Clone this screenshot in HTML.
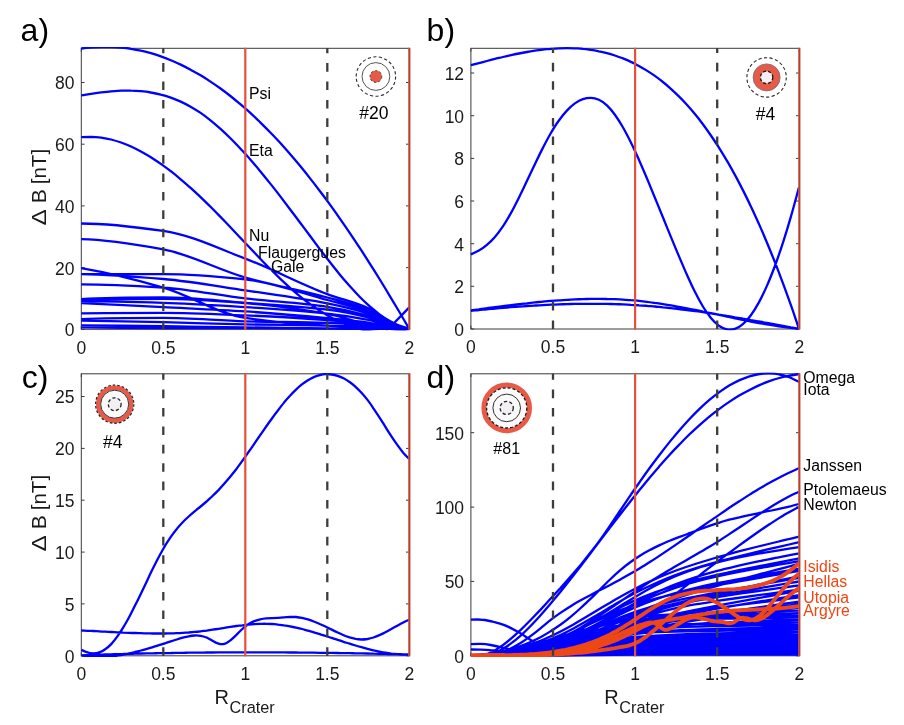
<!DOCTYPE html>
<html><head><meta charset="utf-8"><title>Delta B vs R crater</title>
<style>
html,body{margin:0;padding:0;background:#fff;}
svg{display:block;}
text{font-family:"Liberation Sans", Arial, Helvetica, sans-serif;fill:#000;}
.tk{font-size:17.5px;fill:#1a1a1a;}
.pl{font-size:32px;}
.yl{font-size:20px;fill:#1a1a1a;}
.xl{font-size:20px;fill:#1a1a1a;}
.sub{font-size:16.3px;}
.cl{font-size:15.8px;}
.ic{font-size:17.5px;}
.ic2{font-size:16px;}
</style></head>
<body><svg width="904" height="725" viewBox="0 0 904 725">
<rect width="904" height="725" fill="#fff"/>
<defs>
<clipPath id="cla"><rect x="80.0" y="47.0" width="330.6" height="283.6"/></clipPath>
<clipPath id="clb"><rect x="469.6" y="47.0" width="331.0" height="283.3"/></clipPath>
<clipPath id="clc"><rect x="80.0" y="372.5" width="330.6" height="284.6"/></clipPath>
<clipPath id="cld"><rect x="469.6" y="372.5" width="331.0" height="284.6"/></clipPath>
</defs>
<rect x="81.3" y="48.3" width="328.0" height="281.0" fill="none" stroke="#3a3a3a" stroke-width="1"/>
<path d="M81.3,329.3h3.3M409.3,329.3h-3.3M81.3,267.6h3.3M409.3,267.6h-3.3M81.3,205.9h3.3M409.3,205.9h-3.3M81.3,144.2h3.3M409.3,144.2h-3.3M81.3,82.5h3.3M409.3,82.5h-3.3M81.3,329.3v-3.3M81.3,48.3v3.3M163.3,329.3v-3.3M163.3,48.3v3.3M245.3,329.3v-3.3M245.3,48.3v3.3M327.3,329.3v-3.3M327.3,48.3v3.3M409.3,329.3v-3.3M409.3,48.3v3.3" stroke="#3a3a3a" stroke-width="1" fill="none"/>
<text x="74.5" y="336.2" text-anchor="end" class="tk">0</text>
<text x="74.5" y="274.5" text-anchor="end" class="tk">20</text>
<text x="74.5" y="212.8" text-anchor="end" class="tk">40</text>
<text x="74.5" y="151.1" text-anchor="end" class="tk">60</text>
<text x="74.5" y="89.4" text-anchor="end" class="tk">80</text>
<text x="81.3" y="353.5" text-anchor="middle" class="tk">0</text>
<text x="163.3" y="353.5" text-anchor="middle" class="tk">0.5</text>
<text x="245.3" y="353.5" text-anchor="middle" class="tk">1</text>
<text x="327.3" y="353.5" text-anchor="middle" class="tk">1.5</text>
<text x="409.3" y="353.5" text-anchor="middle" class="tk">2</text>
<rect x="470.9" y="48.3" width="328.4" height="280.7" fill="none" stroke="#3a3a3a" stroke-width="1"/>
<path d="M470.9,329.0h3.3M799.3,329.0h-3.3M470.9,286.3h3.3M799.3,286.3h-3.3M470.9,243.7h3.3M799.3,243.7h-3.3M470.9,201.0h3.3M799.3,201.0h-3.3M470.9,158.4h3.3M799.3,158.4h-3.3M470.9,115.7h3.3M799.3,115.7h-3.3M470.9,73.0h3.3M799.3,73.0h-3.3M470.9,329.0v-3.3M470.9,48.3v3.3M553.0,329.0v-3.3M553.0,48.3v3.3M635.1,329.0v-3.3M635.1,48.3v3.3M717.2,329.0v-3.3M717.2,48.3v3.3M799.3,329.0v-3.3M799.3,48.3v3.3" stroke="#3a3a3a" stroke-width="1" fill="none"/>
<text x="464.1" y="335.9" text-anchor="end" class="tk">0</text>
<text x="464.1" y="293.2" text-anchor="end" class="tk">2</text>
<text x="464.1" y="250.6" text-anchor="end" class="tk">4</text>
<text x="464.1" y="207.9" text-anchor="end" class="tk">6</text>
<text x="464.1" y="165.3" text-anchor="end" class="tk">8</text>
<text x="464.1" y="122.6" text-anchor="end" class="tk">10</text>
<text x="464.1" y="79.9" text-anchor="end" class="tk">12</text>
<text x="470.9" y="353.2" text-anchor="middle" class="tk">0</text>
<text x="553.0" y="353.2" text-anchor="middle" class="tk">0.5</text>
<text x="635.1" y="353.2" text-anchor="middle" class="tk">1</text>
<text x="717.2" y="353.2" text-anchor="middle" class="tk">1.5</text>
<text x="799.3" y="353.2" text-anchor="middle" class="tk">2</text>
<rect x="81.3" y="373.8" width="328.0" height="282.0" fill="none" stroke="#3a3a3a" stroke-width="1"/>
<path d="M81.3,655.8h3.3M409.3,655.8h-3.3M81.3,603.9h3.3M409.3,603.9h-3.3M81.3,552.1h3.3M409.3,552.1h-3.3M81.3,500.2h3.3M409.3,500.2h-3.3M81.3,448.4h3.3M409.3,448.4h-3.3M81.3,396.5h3.3M409.3,396.5h-3.3M81.3,655.8v-3.3M81.3,373.8v3.3M163.3,655.8v-3.3M163.3,373.8v3.3M245.3,655.8v-3.3M245.3,373.8v3.3M327.3,655.8v-3.3M327.3,373.8v3.3M409.3,655.8v-3.3M409.3,373.8v3.3" stroke="#3a3a3a" stroke-width="1" fill="none"/>
<text x="74.5" y="662.7" text-anchor="end" class="tk">0</text>
<text x="74.5" y="610.8" text-anchor="end" class="tk">5</text>
<text x="74.5" y="559.0" text-anchor="end" class="tk">10</text>
<text x="74.5" y="507.1" text-anchor="end" class="tk">15</text>
<text x="74.5" y="455.3" text-anchor="end" class="tk">20</text>
<text x="74.5" y="403.4" text-anchor="end" class="tk">25</text>
<text x="81.3" y="680.0" text-anchor="middle" class="tk">0</text>
<text x="163.3" y="680.0" text-anchor="middle" class="tk">0.5</text>
<text x="245.3" y="680.0" text-anchor="middle" class="tk">1</text>
<text x="327.3" y="680.0" text-anchor="middle" class="tk">1.5</text>
<text x="409.3" y="680.0" text-anchor="middle" class="tk">2</text>
<rect x="470.9" y="373.8" width="328.4" height="282.0" fill="none" stroke="#3a3a3a" stroke-width="1"/>
<path d="M470.9,655.8h3.3M799.3,655.8h-3.3M470.9,581.4h3.3M799.3,581.4h-3.3M470.9,507.1h3.3M799.3,507.1h-3.3M470.9,432.7h3.3M799.3,432.7h-3.3M470.9,655.8v-3.3M470.9,373.8v3.3M553.0,655.8v-3.3M553.0,373.8v3.3M635.1,655.8v-3.3M635.1,373.8v3.3M717.2,655.8v-3.3M717.2,373.8v3.3M799.3,655.8v-3.3M799.3,373.8v3.3" stroke="#3a3a3a" stroke-width="1" fill="none"/>
<text x="464.1" y="662.7" text-anchor="end" class="tk">0</text>
<text x="464.1" y="588.3" text-anchor="end" class="tk">50</text>
<text x="464.1" y="514.0" text-anchor="end" class="tk">100</text>
<text x="464.1" y="439.6" text-anchor="end" class="tk">150</text>
<text x="470.9" y="680.0" text-anchor="middle" class="tk">0</text>
<text x="553.0" y="680.0" text-anchor="middle" class="tk">0.5</text>
<text x="635.1" y="680.0" text-anchor="middle" class="tk">1</text>
<text x="717.2" y="680.0" text-anchor="middle" class="tk">1.5</text>
<text x="799.3" y="680.0" text-anchor="middle" class="tk">2</text>
<path d="M81.3,48.5C84.6,48.1 87.9,47.7 91.2,47.3C94.6,47.0 97.9,46.8 101.2,46.8C104.5,46.7 107.8,46.7 111.1,46.8C114.4,46.9 117.7,47.1 121.1,47.5C124.4,47.8 127.7,48.2 131.0,48.8C134.3,49.3 137.6,49.9 140.9,50.7C144.2,51.4 147.6,52.3 150.9,53.2C154.2,54.2 157.5,55.2 160.8,56.4C164.1,57.6 167.4,58.8 170.8,60.2C174.1,61.6 177.4,63.1 180.7,64.6C184.0,66.2 187.3,67.9 190.6,69.7C193.9,71.5 197.3,73.3 200.6,75.3C203.9,77.3 207.2,79.4 210.5,81.6C213.8,83.8 217.1,86.1 220.5,88.5C223.8,90.9 227.1,93.4 230.4,96.0C233.7,98.7 237.0,101.4 240.3,104.2C243.6,107.0 247.0,109.9 250.3,112.9C253.6,115.9 256.9,119.1 260.2,122.3C263.5,125.5 266.8,128.8 270.1,132.3C273.5,135.7 276.8,139.2 280.1,142.8C283.4,146.5 286.7,150.2 290.0,154.0C293.3,157.8 296.7,161.8 300.0,165.8C303.3,169.8 306.6,173.9 309.9,178.1C313.2,182.3 316.5,186.6 319.8,191.0C323.2,195.4 326.5,199.8 329.8,204.4C333.1,208.9 336.4,213.6 339.7,218.3C343.0,223.0 346.4,227.9 349.7,232.8C353.0,237.7 356.3,242.6 359.6,247.7C362.9,252.7 366.2,257.9 369.5,263.1C372.9,268.3 376.2,273.6 379.5,279.0C382.8,284.3 386.1,289.8 389.4,295.3C392.7,300.8 396.0,306.4 399.4,312.0C402.7,317.6 406.0,323.3 409.3,329.0M81.3,95.4C84.6,94.9 87.9,94.3 91.2,93.8C94.6,93.3 97.9,92.8 101.2,92.4C104.5,92.0 107.8,91.6 111.1,91.3C114.4,91.1 117.7,90.9 121.1,90.7C124.4,90.6 127.7,90.6 131.0,90.7C134.3,90.7 137.6,90.9 140.9,91.2C144.2,91.5 147.6,91.9 150.9,92.5C154.2,93.0 157.5,93.7 160.8,94.6C164.1,95.4 167.4,96.4 170.8,97.6C174.1,98.7 177.4,100.1 180.7,101.6C184.0,103.1 187.3,104.8 190.6,106.7C193.9,108.6 197.3,110.6 200.6,112.9C203.9,115.2 207.2,117.7 210.5,120.3C213.8,123.0 217.1,125.8 220.5,128.8C223.8,131.8 227.1,134.9 230.4,138.2C233.7,141.5 237.0,144.9 240.3,148.5C243.6,152.1 247.0,155.7 250.3,159.5C253.6,163.3 256.9,167.2 260.2,171.2C263.5,175.2 266.8,179.3 270.1,183.4C273.5,187.6 276.8,191.8 280.1,196.1C283.4,200.4 286.7,204.8 290.0,209.2C293.3,213.6 296.7,218.0 300.0,222.5C303.3,226.9 306.6,231.4 309.9,235.8C313.2,240.3 316.5,244.7 319.8,249.1C323.2,253.5 326.5,257.8 329.8,262.0C333.1,266.2 336.4,270.4 339.7,274.4C343.0,278.4 346.4,282.3 349.7,286.0C353.0,289.7 356.3,293.3 359.6,296.7C362.9,300.0 366.2,303.2 369.5,306.2C372.9,309.1 376.2,311.8 379.5,314.3C382.8,316.7 386.1,318.9 389.4,320.8C392.7,322.7 396.0,324.4 399.4,325.6C402.7,326.8 406.0,327.7 409.3,328.5M81.3,137.2C84.6,137.0 87.9,136.8 91.2,136.8C94.6,136.9 97.9,137.2 101.2,137.6C104.5,138.1 107.8,138.7 111.1,139.5C114.4,140.4 117.7,141.4 121.1,142.5C124.4,143.7 127.7,145.0 131.0,146.5C134.3,148.0 137.6,149.7 140.9,151.5C144.2,153.3 147.6,155.2 150.9,157.3C154.2,159.3 157.5,161.6 160.8,163.9C164.1,166.2 167.4,168.7 170.8,171.2C174.1,173.8 177.4,176.5 180.7,179.3C184.0,182.1 187.3,184.9 190.6,187.9C193.9,190.9 197.3,194.0 200.6,197.1C203.9,200.3 207.2,203.5 210.5,206.8C213.8,210.1 217.1,213.5 220.5,216.9C223.8,220.3 227.1,223.8 230.4,227.2C233.7,230.7 237.0,234.2 240.3,237.8C243.6,241.3 247.0,244.8 250.3,248.3C253.6,251.8 256.9,255.2 260.2,258.7C263.5,262.1 266.8,265.5 270.1,268.8C273.5,272.1 276.8,275.4 280.1,278.6C283.4,281.7 286.7,284.8 290.0,287.8C293.3,290.7 296.7,293.6 300.0,296.3C303.3,299.0 306.6,301.6 309.9,304.0C313.2,306.4 316.5,308.7 319.8,310.8C323.2,313.0 326.5,314.9 329.8,316.8C333.1,318.6 336.4,320.3 339.7,321.8C343.0,323.3 346.4,324.7 349.7,325.9C353.0,327.1 356.3,328.1 359.6,329.0C362.9,329.9 366.2,330.6 369.5,331.1C372.9,331.6 376.2,332.0 379.5,332.1C382.8,332.3 386.1,332.3 389.4,332.1C392.7,332.0 396.0,331.6 399.4,331.0C402.7,330.4 406.0,329.6 409.3,328.8M81.3,223.5C108.6,223.5 136.0,227.0 163.3,230.9C190.6,234.8 218.0,248.3 245.3,258.6C272.6,269.0 300.0,283.8 327.3,294.1C341.0,299.3 354.6,302.0 368.3,308.2C377.6,312.4 386.9,323.1 396.2,326.2C400.6,327.6 404.9,328.8 409.3,329.3M81.3,239.2C108.6,239.6 136.0,244.4 163.3,249.4C190.6,254.4 218.0,269.7 245.3,277.5C272.6,285.3 300.0,289.9 327.3,297.5C341.0,301.3 354.6,304.6 368.3,310.2C377.6,314.1 386.9,323.7 396.2,326.4C400.6,327.8 404.9,328.9 409.3,329.3M81.3,274.1C108.6,274.1 136.0,274.1 163.3,274.1C190.6,274.1 218.0,276.5 245.3,279.3C272.6,282.1 300.0,292.6 327.3,300.0C341.0,303.7 354.6,306.5 368.3,311.7C377.6,315.2 386.9,324.1 396.2,326.6C400.6,327.9 404.9,328.9 409.3,329.3M81.3,274.1C108.6,274.6 136.0,276.7 163.3,279.0C190.6,281.3 218.0,286.4 245.3,290.4C272.6,294.5 300.0,297.9 327.3,303.4C341.0,306.1 354.6,309.2 368.3,313.7C377.6,316.9 386.9,324.6 396.2,326.9C400.6,328.0 404.9,328.9 409.3,329.3M81.3,268.2C108.6,272.9 136.0,279.8 163.3,287.6C190.6,295.5 218.0,313.8 245.3,317.9C272.6,322.0 300.0,324.2 327.3,325.6C341.0,326.3 354.6,326.5 368.3,327.1C377.6,327.5 386.9,328.2 396.2,328.7C400.6,328.9 404.9,329.1 409.3,329.3M81.3,284.3C108.6,284.3 136.0,285.9 163.3,287.6C190.6,289.4 218.0,295.3 245.3,298.4C272.6,301.6 300.0,302.8 327.3,306.8C341.0,308.8 354.6,311.8 368.3,315.8C377.6,318.5 386.9,325.2 396.2,327.2C400.6,328.1 404.9,328.9 409.3,329.3M81.3,299.1C108.6,297.5 136.0,297.5 163.3,297.5C190.6,297.5 218.0,300.8 245.3,302.8C272.6,304.7 300.0,306.2 327.3,309.6C341.0,311.2 354.6,314.0 368.3,317.5C377.6,319.8 386.9,325.6 396.2,327.4C400.6,328.3 404.9,329.0 409.3,329.3M81.3,301.2C108.6,301.3 136.0,302.0 163.3,302.8C190.6,303.5 218.0,305.4 245.3,307.1C272.6,308.8 300.0,310.6 327.3,313.6C341.0,315.0 354.6,317.1 368.3,319.9C377.6,321.7 386.9,326.2 396.2,327.7C400.6,328.4 404.9,329.0 409.3,329.3M81.3,303.1C108.6,304.4 136.0,305.7 163.3,307.1C190.6,308.5 218.0,309.6 245.3,311.4C272.6,313.2 300.0,315.6 327.3,318.2C341.0,319.5 354.6,320.7 368.3,322.6C377.6,324.0 386.9,327.0 396.2,328.1C400.6,328.6 404.9,329.0 409.3,329.3M81.3,313.3C108.6,312.9 136.0,312.9 163.3,312.9C190.6,312.9 218.0,314.3 245.3,315.4C272.6,316.5 300.0,318.1 327.3,320.0C341.0,321.0 354.6,322.1 368.3,323.7C377.6,324.8 386.9,327.3 396.2,328.3C400.6,328.7 404.9,329.1 409.3,329.3M81.3,319.1C108.6,317.9 136.0,317.9 163.3,317.9C190.6,317.9 218.0,320.6 245.3,321.3C272.6,322.0 300.0,322.0 327.3,322.8C341.0,323.2 354.6,324.3 368.3,325.4C377.6,326.2 386.9,327.8 396.2,328.5C400.6,328.8 404.9,329.1 409.3,329.3M81.3,320.7C108.6,321.1 136.0,321.6 163.3,322.2C190.6,322.8 218.0,323.8 245.3,324.4C272.6,324.9 300.0,325.0 327.3,325.6C341.0,325.9 354.6,326.5 368.3,327.1C377.6,327.5 386.9,328.2 396.2,328.7C400.6,328.9 404.9,329.1 409.3,329.3M81.3,325.3C108.6,325.5 136.0,325.9 163.3,326.2C190.6,326.6 218.0,327.1 245.3,327.4C272.6,327.8 300.0,328.1 327.3,328.4C341.0,328.5 354.6,328.6 368.3,328.7C377.6,328.8 386.9,328.8 396.2,328.9C400.6,329.0 404.9,329.1 409.3,329.3M81.3,327.4C108.6,327.8 136.0,328.1 163.3,328.1C190.6,328.1 218.0,328.1 245.3,328.1C272.6,328.1 300.0,328.5 327.3,328.7C341.0,328.8 354.6,328.9 368.3,328.9C377.6,328.9 386.9,328.9 396.2,328.9C400.6,328.9 404.9,329.1 409.3,329.3M81.3,300.0C108.6,298.8 136.0,298.8 163.3,298.8C190.6,298.8 218.0,301.0 245.3,303.1C272.6,305.1 300.0,308.9 327.3,313.9C341.0,316.4 354.6,321.3 368.3,324.7C374.9,326.3 381.4,327.8 388.0,329.3M388.0,329.3L409.3,307.4" fill="none" stroke="#0000ff" stroke-width="2.3" stroke-linejoin="round" clip-path="url(#cla)"/>
<path d="M470.9,65.2C473.6,64.5 476.2,63.8 478.9,63.1C481.6,62.4 484.2,61.7 486.9,61.0C489.6,60.3 492.2,59.6 494.9,58.9C497.6,58.3 500.2,57.6 502.9,57.0C505.6,56.4 508.2,55.8 510.9,55.2C513.6,54.6 516.2,54.0 518.9,53.5C521.6,53.0 524.2,52.5 526.9,52.0C529.6,51.5 532.2,51.1 534.9,50.7C537.6,50.3 540.2,50.0 542.9,49.6C545.6,49.3 548.2,49.1 550.9,48.8C553.6,48.6 556.2,48.5 558.9,48.3C561.6,48.2 564.2,48.2 566.9,48.2C569.6,48.2 572.2,48.2 574.9,48.3C577.6,48.5 580.2,48.6 582.9,48.9C585.6,49.1 588.2,49.5 590.9,49.9C593.6,50.2 596.2,50.7 598.9,51.3C601.6,51.8 604.2,52.4 606.9,53.1C609.6,53.8 612.2,54.6 614.9,55.5C617.6,56.4 620.2,57.4 622.9,58.4C625.6,59.5 628.2,60.6 630.9,61.9C633.6,63.1 636.2,64.5 638.9,65.9C641.6,67.4 644.2,68.9 646.9,70.6C649.6,72.3 652.2,74.0 654.9,75.9C657.6,77.8 660.2,79.8 662.9,82.0C665.6,84.1 668.2,86.4 670.9,88.8C673.6,91.2 676.2,93.7 678.9,96.4C681.6,99.0 684.2,101.8 686.9,104.8C689.6,107.7 692.2,110.8 694.9,114.1C697.6,117.3 700.2,120.7 702.9,124.3C705.6,127.9 708.2,131.6 710.9,135.5C713.6,139.3 716.2,143.4 718.9,147.6C721.6,151.8 724.2,156.2 726.9,160.7C729.6,165.3 732.2,170.0 734.9,174.9C737.6,179.8 740.2,184.9 742.9,190.1C745.6,195.4 748.2,200.8 750.9,206.5C753.6,212.1 756.2,217.9 758.9,223.9C761.6,229.9 764.2,236.1 766.9,242.5C769.6,248.9 772.2,255.4 774.9,262.2C777.6,269.0 780.2,276.0 782.9,283.1C785.6,290.3 788.2,297.6 790.9,305.2C793.6,312.8 796.2,320.7 798.9,328.5M470.9,254.4C473.6,253.3 476.2,252.2 478.9,250.6C481.6,249.1 484.2,247.2 486.9,244.9C489.6,242.6 492.2,240.0 494.9,236.9C497.6,233.9 500.2,230.4 502.9,226.4C505.6,222.4 508.2,217.9 510.9,213.1C513.6,208.2 516.2,203.1 518.9,197.7C521.6,192.3 524.2,186.7 526.9,181.1C529.6,175.4 532.2,169.8 534.9,164.2C537.6,158.6 540.2,153.1 542.9,147.9C545.6,142.6 548.2,137.6 550.9,133.0C553.6,128.4 556.2,124.2 558.9,120.5C561.6,116.7 564.2,113.4 566.9,110.6C569.6,107.7 572.2,105.3 574.9,103.4C577.6,101.5 580.2,100.0 582.9,99.1C585.6,98.2 588.2,97.7 590.9,97.8C593.6,97.9 596.2,98.6 598.9,99.8C601.6,101.0 604.2,102.9 606.9,105.4C609.6,107.9 612.2,111.0 614.9,114.7C617.6,118.4 620.2,122.6 622.9,127.3C625.6,132.0 628.2,137.1 630.9,142.5C633.6,147.9 636.2,153.7 638.9,159.7C641.6,165.7 644.2,172.0 646.9,178.3C649.6,184.7 652.2,191.1 654.9,197.7C657.6,204.2 660.2,210.7 662.9,217.3C665.6,223.8 668.2,230.4 670.9,236.9C673.6,243.4 676.2,249.8 678.9,256.1C681.6,262.4 684.2,268.7 686.9,274.7C689.6,280.7 692.2,286.5 694.9,291.8C697.6,297.2 700.2,302.1 702.9,306.5C705.6,310.9 708.2,314.7 710.9,317.9C713.6,321.1 716.2,323.7 718.9,325.7C721.6,327.6 724.2,328.9 726.9,329.4C729.6,330.0 732.2,329.8 734.9,328.9C737.6,328.0 740.2,326.4 742.9,324.1C745.6,321.8 748.2,318.8 750.9,315.2C753.6,311.6 756.2,307.3 758.9,302.4C761.6,297.5 764.2,292.0 766.9,285.9C769.6,279.8 772.2,273.2 774.9,266.0C777.6,258.8 780.2,251.0 782.9,242.8C785.6,234.6 788.2,225.9 790.9,216.6C793.6,207.3 796.2,197.4 798.9,187.5M470.9,310.3C473.6,310.0 476.2,309.6 478.9,309.3C481.6,308.9 484.2,308.5 486.9,308.2C489.6,307.8 492.2,307.5 494.9,307.1C497.6,306.8 500.2,306.5 502.9,306.1C505.6,305.8 508.2,305.4 510.9,305.1C513.6,304.8 516.2,304.5 518.9,304.2C521.6,303.9 524.2,303.5 526.9,303.3C529.6,303.0 532.2,302.7 534.9,302.4C537.6,302.1 540.2,301.9 542.9,301.6C545.6,301.4 548.2,301.2 550.9,300.9C553.6,300.7 556.2,300.5 558.9,300.3C561.6,300.1 564.2,300.0 566.9,299.8C569.6,299.7 572.2,299.5 574.9,299.4C577.6,299.3 580.2,299.2 582.9,299.1C585.6,299.0 588.2,299.0 590.9,298.9C593.6,298.9 596.2,298.9 598.9,298.9C601.6,298.9 604.2,298.9 606.9,299.0C609.6,299.0 612.2,299.1 614.9,299.2C617.6,299.3 620.2,299.4 622.9,299.6C625.6,299.8 628.2,299.9 630.9,300.2C633.6,300.4 636.2,300.6 638.9,300.9C641.6,301.2 644.2,301.5 646.9,301.8C649.6,302.1 652.2,302.5 654.9,302.9C657.6,303.2 660.2,303.7 662.9,304.1C665.6,304.5 668.2,304.9 670.9,305.4C673.6,305.9 676.2,306.3 678.9,306.8C681.6,307.3 684.2,307.8 686.9,308.3C689.6,308.9 692.2,309.4 694.9,309.9C697.6,310.5 700.2,311.0 702.9,311.6C705.6,312.1 708.2,312.7 710.9,313.2C713.6,313.8 716.2,314.4 718.9,314.9C721.6,315.5 724.2,316.1 726.9,316.6C729.6,317.2 732.2,317.7 734.9,318.3C737.6,318.8 740.2,319.4 742.9,319.9C745.6,320.4 748.2,321.0 750.9,321.5C753.6,322.0 756.2,322.5 758.9,323.0C761.6,323.5 764.2,323.9 766.9,324.4C769.6,324.9 772.2,325.3 774.9,325.7C777.6,326.1 780.2,326.5 782.9,326.9C785.6,327.3 788.2,327.6 790.9,327.9C793.6,328.2 796.2,328.5 798.9,328.8M470.9,310.8C473.6,310.5 476.2,310.3 478.9,310.0C481.6,309.8 484.2,309.5 486.9,309.3C489.6,309.0 492.2,308.8 494.9,308.5C497.6,308.3 500.2,308.1 502.9,307.8C505.6,307.6 508.2,307.4 510.9,307.2C513.6,307.0 516.2,306.8 518.9,306.6C521.6,306.4 524.2,306.2 526.9,306.0C529.6,305.9 532.2,305.7 534.9,305.5C537.6,305.4 540.2,305.2 542.9,305.1C545.6,305.0 548.2,304.8 550.9,304.7C553.6,304.6 556.2,304.5 558.9,304.4C561.6,304.3 564.2,304.2 566.9,304.1C569.6,304.0 572.2,304.0 574.9,303.9C577.6,303.9 580.2,303.8 582.9,303.8C585.6,303.8 588.2,303.8 590.9,303.8C593.6,303.8 596.2,303.8 598.9,303.8C601.6,303.8 604.2,303.9 606.9,303.9C609.6,304.0 612.2,304.0 614.9,304.1C617.6,304.2 620.2,304.3 622.9,304.4C625.6,304.5 628.2,304.6 630.9,304.8C633.6,304.9 636.2,305.1 638.9,305.3C641.6,305.4 644.2,305.6 646.9,305.8C649.6,306.0 652.2,306.3 654.9,306.5C657.6,306.8 660.2,307.0 662.9,307.3C665.6,307.5 668.2,307.8 670.9,308.1C673.6,308.4 676.2,308.7 678.9,309.0C681.6,309.4 684.2,309.7 686.9,310.0C689.6,310.4 692.2,310.7 694.9,311.1C697.6,311.5 700.2,311.9 702.9,312.2C705.6,312.6 708.2,313.0 710.9,313.4C713.6,313.8 716.2,314.2 718.9,314.7C721.6,315.1 724.2,315.5 726.9,316.0C729.6,316.4 732.2,316.8 734.9,317.3C737.6,317.7 740.2,318.2 742.9,318.7C745.6,319.1 748.2,319.6 750.9,320.1C753.6,320.5 756.2,321.0 758.9,321.5C761.6,322.0 764.2,322.5 766.9,322.9C769.6,323.4 772.2,323.9 774.9,324.4C777.6,324.9 780.2,325.4 782.9,325.9C785.6,326.4 788.2,326.9 790.9,327.4C793.6,327.8 796.2,328.3 798.9,328.8" fill="none" stroke="#0000ff" stroke-width="2.3" stroke-linejoin="round" clip-path="url(#clb)"/>
<path d="M81.4,649.9C83.4,650.9 85.4,651.8 87.4,652.4C89.3,653.0 91.3,653.3 93.3,653.3C95.3,653.3 97.3,653.0 99.3,652.3C101.3,651.7 103.3,650.7 105.2,649.3C107.2,647.9 109.2,646.2 111.2,644.1C113.2,642.0 115.2,639.5 117.2,636.7C119.1,634.0 121.1,630.9 123.1,627.6C125.1,624.4 127.1,620.8 129.1,617.2C131.1,613.5 133.1,609.6 135.0,605.6C137.0,601.7 139.0,597.6 141.0,593.4C143.0,589.3 145.0,585.1 147.0,580.9C148.9,576.8 150.9,572.6 152.9,568.6C154.9,564.5 156.9,560.6 158.9,556.8C160.9,553.0 162.9,549.5 164.8,546.1C166.8,542.8 168.8,539.7 170.8,536.8C172.8,533.9 174.8,531.3 176.8,528.9C178.7,526.5 180.7,524.3 182.7,522.2C184.7,520.2 186.7,518.3 188.7,516.5C190.7,514.7 192.7,513.0 194.6,511.4C196.6,509.7 198.6,508.1 200.6,506.5C202.6,504.8 204.6,503.2 206.6,501.5C208.5,499.7 210.5,497.9 212.5,496.0C214.5,494.1 216.5,492.1 218.5,490.1C220.5,488.0 222.5,485.8 224.4,483.6C226.4,481.3 228.4,479.0 230.4,476.6C232.4,474.1 234.4,471.6 236.4,469.0C238.3,466.4 240.3,463.7 242.3,460.9C244.3,458.1 246.3,455.3 248.3,452.4C250.3,449.6 252.3,446.7 254.2,443.8C256.2,440.9 258.2,438.0 260.2,435.1C262.2,432.2 264.2,429.4 266.2,426.5C268.1,423.7 270.1,420.9 272.1,418.2C274.1,415.4 276.1,412.7 278.1,410.2C280.1,407.6 282.1,405.0 284.0,402.6C286.0,400.2 288.0,397.9 290.0,395.8C292.0,393.6 294.0,391.5 296.0,389.6C297.9,387.7 299.9,386.0 301.9,384.4C303.9,382.8 305.9,381.4 307.9,380.2C309.9,379.0 311.9,378.0 313.8,377.1C315.8,376.3 317.8,375.6 319.8,375.1C321.8,374.6 323.8,374.3 325.8,374.2C327.7,374.1 329.7,374.2 331.7,374.5C333.7,374.7 335.7,375.2 337.7,375.8C339.7,376.5 341.7,377.3 343.6,378.3C345.6,379.4 347.6,380.6 349.6,382.0C351.6,383.4 353.6,385.0 355.6,386.8C357.5,388.6 359.5,390.6 361.5,392.8C363.5,395.0 365.5,397.4 367.5,399.9C369.5,402.5 371.5,405.3 373.4,408.3C375.4,411.2 377.4,414.2 379.4,417.4C381.4,420.5 383.4,423.6 385.4,426.8C387.3,430.0 389.3,433.1 391.3,436.1C393.3,439.2 395.3,442.1 397.3,444.9C399.3,447.7 401.3,450.4 403.2,452.7C405.2,455.0 407.2,457.0 409.2,459.0M81.4,630.5C83.4,630.6 85.4,630.7 87.4,630.8C89.3,630.9 91.3,630.9 93.3,631.0C95.3,631.1 97.3,631.2 99.3,631.3C101.3,631.5 103.3,631.6 105.2,631.7C107.2,631.8 109.2,631.9 111.2,632.0C113.2,632.1 115.2,632.2 117.2,632.3C119.1,632.4 121.1,632.5 123.1,632.6C125.1,632.6 127.1,632.7 129.1,632.8C131.1,632.9 133.1,633.0 135.0,633.0C137.0,633.1 139.0,633.2 141.0,633.2C143.0,633.3 145.0,633.3 147.0,633.4C148.9,633.4 150.9,633.5 152.9,633.5C154.9,633.5 156.9,633.5 158.9,633.5C160.9,633.5 162.9,633.5 164.8,633.5C166.8,633.4 168.8,633.4 170.8,633.3C172.8,633.3 174.8,633.2 176.8,633.1C178.7,633.1 180.7,633.0 182.7,632.8C184.7,632.7 186.7,632.6 188.7,632.5C190.7,632.3 192.7,632.1 194.6,631.9C196.6,631.8 198.6,631.6 200.6,631.3C202.6,631.1 204.6,630.8 206.6,630.6C208.5,630.3 210.5,630.0 212.5,629.7C214.5,629.4 216.5,629.1 218.5,628.8C220.5,628.5 222.5,628.2 224.4,627.9C226.4,627.5 228.4,627.2 230.4,626.9C232.4,626.6 234.4,626.3 236.4,626.0C238.3,625.8 240.3,625.5 242.3,625.3C244.3,625.0 246.3,624.8 248.3,624.6C250.3,624.4 252.3,624.2 254.2,624.1C256.2,624.0 258.2,623.9 260.2,623.8C262.2,623.8 264.2,623.7 266.2,623.8C268.1,623.8 270.1,623.9 272.1,624.0C274.1,624.2 276.1,624.3 278.1,624.6C280.1,624.8 282.1,625.0 284.0,625.4C286.0,625.7 288.0,626.0 290.0,626.4C292.0,626.8 294.0,627.2 296.0,627.6C297.9,628.1 299.9,628.5 301.9,629.0C303.9,629.5 305.9,630.1 307.9,630.6C309.9,631.2 311.9,631.7 313.8,632.3C315.8,632.9 317.8,633.5 319.8,634.1C321.8,634.7 323.8,635.4 325.8,636.0C327.7,636.6 329.7,637.3 331.7,637.9C333.7,638.6 335.7,639.2 337.7,639.9C339.7,640.5 341.7,641.1 343.6,641.8C345.6,642.4 347.6,643.1 349.6,643.7C351.6,644.3 353.6,644.9 355.6,645.5C357.5,646.1 359.5,646.7 361.5,647.2C363.5,647.8 365.5,648.3 367.5,648.8C369.5,649.4 371.5,649.9 373.4,650.3C375.4,650.8 377.4,651.2 379.4,651.6C381.4,652.0 383.4,652.4 385.4,652.7C387.3,653.0 389.3,653.3 391.3,653.6C393.3,653.8 395.3,654.0 397.3,654.2C399.3,654.3 401.3,654.5 403.2,654.5C405.2,654.6 407.2,654.5 409.2,654.5M81.4,655.3C83.4,655.6 85.4,656.0 87.4,656.2C89.3,656.5 91.3,656.6 93.3,656.8C95.3,656.9 97.3,656.9 99.3,656.9C101.3,656.9 103.3,656.9 105.2,656.8C107.2,656.7 109.2,656.5 111.2,656.3C113.2,656.1 115.2,655.9 117.2,655.6C119.1,655.3 121.1,655.0 123.1,654.6C125.1,654.3 127.1,653.9 129.1,653.4C131.1,653.0 133.1,652.5 135.0,652.0C137.0,651.6 139.0,651.0 141.0,650.5C143.0,650.0 145.0,649.4 147.0,648.8C148.9,648.3 150.9,647.7 152.9,647.1C154.9,646.5 156.9,645.8 158.9,645.2C160.9,644.6 162.9,644.0 164.8,643.3C166.8,642.7 168.8,642.1 170.8,641.4C172.8,640.8 174.8,640.2 176.8,639.5C178.7,638.9 180.7,638.3 182.7,637.7C184.7,637.2 186.7,636.7 188.7,636.3C190.7,635.9 192.7,635.6 194.6,635.5C196.6,635.4 198.6,635.5 200.6,635.8C202.6,636.1 204.6,636.7 206.6,637.5C208.5,638.4 210.5,639.5 212.5,640.7C214.5,641.9 216.5,643.0 218.5,643.6C220.5,644.2 222.5,644.4 224.4,643.8C226.4,643.3 228.4,642.0 230.4,640.4C232.4,638.8 234.4,636.9 236.4,634.9C238.3,632.9 240.3,630.8 242.3,629.0C244.3,627.1 246.3,625.5 248.3,624.2C250.3,622.9 252.3,621.9 254.2,621.1C256.2,620.3 258.2,619.8 260.2,619.3C262.2,618.9 264.2,618.6 266.2,618.4C268.1,618.3 270.1,618.2 272.1,618.1C274.1,618.0 276.1,617.9 278.1,617.8C280.1,617.7 282.1,617.5 284.0,617.3C286.0,617.2 288.0,617.0 290.0,616.9C292.0,616.9 294.0,616.9 296.0,617.0C297.9,617.2 299.9,617.5 301.9,617.9C303.9,618.3 305.9,618.8 307.9,619.4C309.9,620.0 311.9,620.7 313.8,621.5C315.8,622.2 317.8,623.1 319.8,624.0C321.8,624.8 323.8,625.8 325.8,626.7C327.7,627.7 329.7,628.7 331.7,629.6C333.7,630.6 335.7,631.6 337.7,632.5C339.7,633.5 341.7,634.4 343.6,635.2C345.6,636.0 347.6,636.7 349.6,637.4C351.6,638.0 353.6,638.5 355.6,638.9C357.5,639.2 359.5,639.4 361.5,639.5C363.5,639.5 365.5,639.3 367.5,639.0C369.5,638.6 371.5,638.1 373.4,637.5C375.4,636.8 377.4,636.0 379.4,635.1C381.4,634.3 383.4,633.3 385.4,632.2C387.3,631.2 389.3,630.1 391.3,629.0C393.3,627.9 395.3,626.8 397.3,625.7C399.3,624.6 401.3,623.5 403.2,622.5C405.2,621.5 407.2,620.6 409.2,619.7M81.4,655.3C83.4,655.2 85.4,655.2 87.4,655.1C89.3,655.0 91.3,655.0 93.3,654.9C95.3,654.8 97.3,654.8 99.3,654.7C101.3,654.6 103.3,654.6 105.2,654.5C107.2,654.4 109.2,654.4 111.2,654.3C113.2,654.3 115.2,654.2 117.2,654.2C119.1,654.1 121.1,654.0 123.1,654.0C125.1,653.9 127.1,653.9 129.1,653.8C131.1,653.8 133.1,653.7 135.0,653.7C137.0,653.6 139.0,653.6 141.0,653.5C143.0,653.5 145.0,653.5 147.0,653.4C148.9,653.4 150.9,653.3 152.9,653.3C154.9,653.3 156.9,653.2 158.9,653.2C160.9,653.1 162.9,653.1 164.8,653.1C166.8,653.0 168.8,653.0 170.8,653.0C172.8,652.9 174.8,652.9 176.8,652.9C178.7,652.9 180.7,652.8 182.7,652.8C184.7,652.8 186.7,652.7 188.7,652.7C190.7,652.7 192.7,652.7 194.6,652.6C196.6,652.6 198.6,652.6 200.6,652.6C202.6,652.6 204.6,652.5 206.6,652.5C208.5,652.5 210.5,652.5 212.5,652.5C214.5,652.5 216.5,652.5 218.5,652.4C220.5,652.4 222.5,652.4 224.4,652.4C226.4,652.4 228.4,652.4 230.4,652.4C232.4,652.4 234.4,652.4 236.4,652.4C238.3,652.4 240.3,652.3 242.3,652.3C244.3,652.3 246.3,652.3 248.3,652.3C250.3,652.3 252.3,652.3 254.2,652.3C256.2,652.3 258.2,652.3 260.2,652.3C262.2,652.3 264.2,652.4 266.2,652.4C268.1,652.4 270.1,652.4 272.1,652.4C274.1,652.4 276.1,652.4 278.1,652.4C280.1,652.4 282.1,652.4 284.0,652.4C286.0,652.5 288.0,652.5 290.0,652.5C292.0,652.5 294.0,652.5 296.0,652.5C297.9,652.5 299.9,652.6 301.9,652.6C303.9,652.6 305.9,652.6 307.9,652.6C309.9,652.7 311.9,652.7 313.8,652.7C315.8,652.7 317.8,652.7 319.8,652.8C321.8,652.8 323.8,652.8 325.8,652.8C327.7,652.9 329.7,652.9 331.7,652.9C333.7,653.0 335.7,653.0 337.7,653.0C339.7,653.0 341.7,653.1 343.6,653.1C345.6,653.1 347.6,653.2 349.6,653.2C351.6,653.2 353.6,653.3 355.6,653.3C357.5,653.3 359.5,653.4 361.5,653.4C363.5,653.5 365.5,653.5 367.5,653.5C369.5,653.6 371.5,653.6 373.4,653.7C375.4,653.7 377.4,653.7 379.4,653.8C381.4,653.8 383.4,653.9 385.4,653.9C387.3,654.0 389.3,654.0 391.3,654.1C393.3,654.1 395.3,654.2 397.3,654.2C399.3,654.2 401.3,654.3 403.2,654.3C405.2,654.4 407.2,654.4 409.2,654.5" fill="none" stroke="#0000ff" stroke-width="2.3" stroke-linejoin="round" clip-path="url(#clc)"/>
<path d="M470.9,655.5C477.7,655.3 484.6,655.0 491.4,654.5C498.3,654.1 505.1,653.4 511.9,652.5C518.8,651.6 525.6,650.4 532.5,648.9C539.3,647.3 546.2,645.5 553.0,643.3C559.8,641.0 566.7,638.5 573.5,635.6C580.4,632.7 587.2,629.4 594.0,626.0C600.9,622.6 607.7,618.9 614.6,615.3C621.4,611.6 628.3,608.0 635.1,604.6C641.9,601.2 648.8,598.1 655.6,595.2C662.5,592.4 669.3,589.9 676.1,587.6C683.0,585.3 689.8,583.3 696.7,581.5C703.5,579.7 710.4,578.0 717.2,576.5C724.0,574.9 730.9,573.5 737.7,572.2C744.6,570.8 751.4,569.6 758.2,568.3C765.1,567.1 771.9,565.9 778.8,564.7C785.6,563.5 792.5,562.3 799.3,561.2M470.9,655.5C477.7,655.2 484.6,654.8 491.4,654.3C498.3,653.7 505.1,652.9 511.9,651.8C518.8,650.7 525.6,649.3 532.5,647.4C539.3,645.6 546.2,643.4 553.0,640.7C559.8,638.1 566.7,635.1 573.5,631.8C580.4,628.5 587.2,624.9 594.0,621.3C600.9,617.6 607.7,613.9 614.6,610.4C621.4,606.8 628.3,603.5 635.1,600.4C641.9,597.3 648.8,594.6 655.6,592.1C662.5,589.6 669.3,587.3 676.1,585.3C683.0,583.3 689.8,581.4 696.7,579.7C703.5,578.0 710.4,576.4 717.2,574.9C724.0,573.4 730.9,571.9 737.7,570.5C744.6,569.1 751.4,567.7 758.2,566.3C765.1,565.0 771.9,563.6 778.8,562.3C785.6,561.0 792.5,559.7 799.3,558.4M470.9,655.5C477.7,655.2 484.6,654.9 491.4,654.4C498.3,654.0 505.1,653.3 511.9,652.3C518.8,651.4 525.6,650.1 532.5,648.6C539.3,647.0 546.2,645.1 553.0,642.9C559.8,640.6 566.7,638.0 573.5,635.1C580.4,632.2 587.2,629.0 594.0,625.5C600.9,622.0 607.7,618.2 614.6,614.5C621.4,610.7 628.3,606.8 635.1,603.2C641.9,599.5 648.8,596.0 655.6,592.8C662.5,589.6 669.3,586.6 676.1,584.0C683.0,581.3 689.8,579.0 696.7,576.8C703.5,574.7 710.4,572.7 717.2,570.9C724.0,569.1 730.9,567.5 737.7,565.9C744.6,564.3 751.4,562.8 758.2,561.4C765.1,560.0 771.9,558.6 778.8,557.3C785.6,555.9 792.5,554.6 799.3,553.3M470.9,655.6C477.7,655.2 484.6,654.8 491.4,654.2C498.3,653.6 505.1,652.8 511.9,651.7C518.8,650.6 525.6,649.2 532.5,647.4C539.3,645.7 546.2,643.6 553.0,641.1C559.8,638.6 566.7,635.7 573.5,632.5C580.4,629.2 587.2,625.6 594.0,621.7C600.9,617.8 607.7,613.6 614.6,609.4C621.4,605.2 628.3,601.0 635.1,596.9C641.9,592.9 648.8,589.0 655.6,585.5C662.5,582.0 669.3,578.8 676.1,576.0C683.0,573.1 689.8,570.6 696.7,568.4C703.5,566.1 710.4,564.2 717.2,562.4C724.0,560.7 730.9,559.1 737.7,557.7C744.6,556.3 751.4,555.0 758.2,553.7C765.1,552.5 771.9,551.4 778.8,550.3C785.6,549.2 792.5,548.2 799.3,547.1M470.9,655.5C477.7,655.0 484.6,654.6 491.4,653.9C498.3,653.2 505.1,652.3 511.9,650.9C518.8,649.6 525.6,647.9 532.5,645.8C539.3,643.7 546.2,641.2 553.0,638.3C559.8,635.3 566.7,632.0 573.5,628.4C580.4,624.7 587.2,620.8 594.0,616.8C600.9,612.8 607.7,608.6 614.6,604.6C621.4,600.6 628.3,596.7 635.1,593.1C641.9,589.5 648.8,586.2 655.6,583.2C662.5,580.1 669.3,577.4 676.1,574.8C683.0,572.3 689.8,570.0 696.7,567.9C703.5,565.8 710.4,563.8 717.2,561.9C724.0,560.0 730.9,558.3 737.7,556.6C744.6,554.9 751.4,553.2 758.2,551.6C765.1,550.0 771.9,548.4 778.8,546.8C785.6,545.3 792.5,543.7 799.3,542.2M470.9,655.4C477.7,654.9 484.6,654.3 491.4,653.4C498.3,652.5 505.1,651.4 511.9,649.8C518.8,648.2 525.6,646.2 532.5,643.8C539.3,641.4 546.2,638.5 553.0,635.2C559.8,631.9 566.7,628.3 573.5,624.4C580.4,620.5 587.2,616.4 594.0,612.3C600.9,608.2 607.7,604.0 614.6,600.0C621.4,596.1 628.3,592.2 635.1,588.7C641.9,585.1 648.8,581.9 655.6,578.9C662.5,575.8 669.3,573.1 676.1,570.5C683.0,568.0 689.8,565.7 696.7,563.5C703.5,561.3 710.4,559.3 717.2,557.3C724.0,555.4 730.9,553.5 737.7,551.7C744.6,549.9 751.4,548.2 758.2,546.5C765.1,544.8 771.9,543.2 778.8,541.5C785.6,539.9 792.5,538.3 799.3,536.6M470.9,655.7C477.7,655.6 484.6,655.5 491.4,655.3C498.3,655.1 505.1,654.9 511.9,654.5C518.8,654.2 525.6,653.7 532.5,653.0C539.3,652.4 546.2,651.6 553.0,650.5C559.8,649.5 566.7,648.3 573.5,646.9C580.4,645.4 587.2,643.7 594.0,641.8C600.9,639.9 607.7,637.8 614.6,635.7C621.4,633.6 628.3,631.5 635.1,629.6C641.9,627.7 648.8,626.1 655.6,624.6C662.5,623.2 669.3,622.0 676.1,620.9C683.0,619.8 689.8,618.9 696.7,618.0C703.5,617.2 710.4,616.4 717.2,615.7C724.0,614.9 730.9,614.2 737.7,613.5C744.6,612.9 751.4,612.2 758.2,611.5C765.1,610.9 771.9,610.2 778.8,609.6C785.6,608.9 792.5,608.3 799.3,607.7M470.9,655.6C477.7,655.4 484.6,655.2 491.4,654.9C498.3,654.6 505.1,654.2 511.9,653.6C518.8,653.0 525.6,652.2 532.5,651.2C539.3,650.2 546.2,649.1 553.0,647.8C559.8,646.5 566.7,645.1 573.5,643.7C580.4,642.2 587.2,640.8 594.0,639.3C600.9,637.8 607.7,636.4 614.6,635.0C621.4,633.6 628.3,632.2 635.1,631.0C641.9,629.7 648.8,628.4 655.6,627.2C662.5,626.0 669.3,624.8 676.1,623.6C683.0,622.5 689.8,621.3 696.7,620.2C703.5,619.1 710.4,618.0 717.2,616.9C724.0,615.8 730.9,614.7 737.7,613.6C744.6,612.5 751.4,611.4 758.2,610.3C765.1,609.2 771.9,608.1 778.8,607.0C785.6,606.0 792.5,604.9 799.3,603.8M470.9,655.6C477.7,655.4 484.6,655.3 491.4,655.1C498.3,654.8 505.1,654.5 511.9,653.9C518.8,653.4 525.6,652.7 532.5,651.8C539.3,650.9 546.2,649.8 553.0,648.4C559.8,647.1 566.7,645.5 573.5,643.8C580.4,642.1 587.2,640.2 594.0,638.3C600.9,636.4 607.7,634.4 614.6,632.6C621.4,630.8 628.3,629.1 635.1,627.6C641.9,626.0 648.8,624.7 655.6,623.4C662.5,622.1 669.3,620.9 676.1,619.8C683.0,618.6 689.8,617.6 696.7,616.5C703.5,615.5 710.4,614.4 717.2,613.4C724.0,612.4 730.9,611.4 737.7,610.4C744.6,609.4 751.4,608.4 758.2,607.5C765.1,606.5 771.9,605.5 778.8,604.5C785.6,603.5 792.5,602.5 799.3,601.6M470.9,655.6C477.7,655.5 484.6,655.3 491.4,655.0C498.3,654.8 505.1,654.4 511.9,653.8C518.8,653.2 525.6,652.4 532.5,651.3C539.3,650.2 546.2,648.9 553.0,647.2C559.8,645.5 566.7,643.5 573.5,641.3C580.4,639.0 587.2,636.6 594.0,634.1C600.9,631.7 607.7,629.3 614.6,627.2C621.4,625.0 628.3,623.2 635.1,621.5C641.9,619.8 648.8,618.4 655.6,617.2C662.5,615.9 669.3,614.7 676.1,613.7C683.0,612.6 689.8,611.6 696.7,610.7C703.5,609.7 710.4,608.8 717.2,607.9C724.0,607.0 730.9,606.1 737.7,605.2C744.6,604.3 751.4,603.4 758.2,602.6C765.1,601.7 771.9,600.8 778.8,600.0C785.6,599.1 792.5,598.2 799.3,597.3M470.9,655.6C477.7,655.4 484.6,655.3 491.4,655.0C498.3,654.8 505.1,654.4 511.9,653.9C518.8,653.4 525.6,652.7 532.5,651.8C539.3,650.9 546.2,649.8 553.0,648.5C559.8,647.2 566.7,645.7 573.5,644.0C580.4,642.3 587.2,640.4 594.0,638.4C600.9,636.4 607.7,634.2 614.6,632.1C621.4,629.9 628.3,627.8 635.1,625.9C641.9,624.0 648.8,622.2 655.6,620.5C662.5,618.9 669.3,617.4 676.1,616.0C683.0,614.6 689.8,613.4 696.7,612.1C703.5,610.9 710.4,609.7 717.2,608.5C724.0,607.4 730.9,606.2 737.7,605.1C744.6,604.0 751.4,602.8 758.2,601.7C765.1,600.6 771.9,599.5 778.8,598.4C785.6,597.3 792.5,596.2 799.3,595.1M470.9,655.5C477.7,655.3 484.6,655.2 491.4,654.9C498.3,654.5 505.1,654.1 511.9,653.4C518.8,652.8 525.6,651.9 532.5,650.8C539.3,649.7 546.2,648.3 553.0,646.8C559.8,645.2 566.7,643.5 573.5,641.6C580.4,639.7 587.2,637.7 594.0,635.6C600.9,633.5 607.7,631.4 614.6,629.4C621.4,627.3 628.3,625.4 635.1,623.5C641.9,621.7 648.8,620.0 655.6,618.4C662.5,616.7 669.3,615.2 676.1,613.8C683.0,612.3 689.8,610.9 696.7,609.6C703.5,608.3 710.4,607.0 717.2,605.7C724.0,604.4 730.9,603.1 737.7,601.9C744.6,600.6 751.4,599.4 758.2,598.1C765.1,596.9 771.9,595.6 778.8,594.4C785.6,593.2 792.5,592.0 799.3,590.7M470.9,655.6C477.7,655.5 484.6,655.4 491.4,655.2C498.3,655.0 505.1,654.6 511.9,654.2C518.8,653.7 525.6,653.1 532.5,652.2C539.3,651.4 546.2,650.4 553.0,649.1C559.8,647.8 566.7,646.3 573.5,644.4C580.4,642.5 587.2,640.2 594.0,637.6C600.9,635.0 607.7,632.1 614.6,629.1C621.4,626.1 628.3,623.1 635.1,620.4C641.9,617.8 648.8,615.4 655.6,613.3C662.5,611.3 669.3,609.6 676.1,608.1C683.0,606.6 689.8,605.4 696.7,604.2C703.5,603.0 710.4,602.0 717.2,600.9C724.0,599.9 730.9,598.9 737.7,598.0C744.6,597.0 751.4,596.1 758.2,595.2C765.1,594.3 771.9,593.4 778.8,592.5C785.6,591.5 792.5,590.6 799.3,589.7M470.9,655.6C477.7,655.5 484.6,655.3 491.4,655.1C498.3,654.8 505.1,654.4 511.9,653.9C518.8,653.3 525.6,652.6 532.5,651.6C539.3,650.7 546.2,649.5 553.0,648.0C559.8,646.5 566.7,644.8 573.5,642.8C580.4,640.7 587.2,638.3 594.0,635.7C600.9,633.1 607.7,630.2 614.6,627.2C621.4,624.3 628.3,621.3 635.1,618.6C641.9,615.8 648.8,613.3 655.6,611.1C662.5,608.8 669.3,606.9 676.1,605.2C683.0,603.5 689.8,602.1 696.7,600.7C703.5,599.4 710.4,598.2 717.2,597.1C724.0,596.0 730.9,594.9 737.7,593.9C744.6,592.9 751.4,591.9 758.2,591.0C765.1,590.0 771.9,589.1 778.8,588.1C785.6,587.2 792.5,586.3 799.3,585.4M470.9,655.5C477.7,655.2 484.6,654.9 491.4,654.5C498.3,654.0 505.1,653.3 511.9,652.3C518.8,651.4 525.6,650.1 532.5,648.6C539.3,647.0 546.2,645.2 553.0,643.1C559.8,640.9 566.7,638.5 573.5,636.0C580.4,633.5 587.2,630.8 594.0,628.2C600.9,625.6 607.7,623.0 614.6,620.6C621.4,618.2 628.3,615.9 635.1,613.9C641.9,611.8 648.8,609.9 655.6,608.2C662.5,606.5 669.3,604.9 676.1,603.4C683.0,601.9 689.8,600.6 696.7,599.2C703.5,597.9 710.4,596.6 717.2,595.4C724.0,594.2 730.9,593.0 737.7,591.8C744.6,590.6 751.4,589.5 758.2,588.3C765.1,587.2 771.9,586.0 778.8,584.9C785.6,583.8 792.5,582.6 799.3,581.5M470.9,655.5C477.7,655.3 484.6,655.2 491.4,654.8C498.3,654.5 505.1,654.0 511.9,653.2C518.8,652.5 525.6,651.5 532.5,650.1C539.3,648.8 546.2,647.1 553.0,645.1C559.8,643.1 566.7,640.7 573.5,637.9C580.4,635.2 587.2,632.2 594.0,629.1C600.9,626.0 607.7,622.8 614.6,619.9C621.4,617.0 628.3,614.3 635.1,611.9C641.9,609.6 648.8,607.5 655.6,605.6C662.5,603.8 669.3,602.1 676.1,600.6C683.0,599.1 689.8,597.7 696.7,596.3C703.5,595.0 710.4,593.7 717.2,592.4C724.0,591.1 730.9,589.9 737.7,588.7C744.6,587.4 751.4,586.2 758.2,585.0C765.1,583.8 771.9,582.6 778.8,581.4C785.6,580.2 792.5,579.0 799.3,577.8M470.9,655.5C477.7,655.3 484.6,655.1 491.4,654.7C498.3,654.3 505.1,653.8 511.9,653.0C518.8,652.2 525.6,651.2 532.5,649.9C539.3,648.6 546.2,647.0 553.0,645.1C559.8,643.3 566.7,641.2 573.5,639.0C580.4,636.7 587.2,634.2 594.0,631.6C600.9,629.1 607.7,626.4 614.6,623.8C621.4,621.2 628.3,618.6 635.1,616.2C641.9,613.8 648.8,611.6 655.6,609.5C662.5,607.4 669.3,605.4 676.1,603.6C683.0,601.7 689.8,600.0 696.7,598.4C703.5,596.7 710.4,595.1 717.2,593.6C724.0,592.1 730.9,590.6 737.7,589.1C744.6,587.6 751.4,586.2 758.2,584.7C765.1,583.3 771.9,581.9 778.8,580.4C785.6,579.0 792.5,577.6 799.3,576.2M470.9,655.5C477.7,655.2 484.6,654.9 491.4,654.4C498.3,653.9 505.1,653.2 511.9,652.2C518.8,651.1 525.6,649.7 532.5,647.9C539.3,646.1 546.2,643.9 553.0,641.3C559.8,638.6 566.7,635.6 573.5,632.3C580.4,629.0 587.2,625.5 594.0,622.2C600.9,618.8 607.7,615.6 614.6,612.6C621.4,609.7 628.3,607.1 635.1,604.8C641.9,602.4 648.8,600.4 655.6,598.6C662.5,596.8 669.3,595.1 676.1,593.6C683.0,592.1 689.8,590.7 696.7,589.3C703.5,588.0 710.4,586.7 717.2,585.4C724.0,584.1 730.9,582.9 737.7,581.7C744.6,580.4 751.4,579.2 758.2,578.0C765.1,576.8 771.9,575.6 778.8,574.4C785.6,573.2 792.5,572.0 799.3,570.8M470.9,655.5C477.7,655.3 484.6,655.1 491.4,654.7C498.3,654.2 505.1,653.7 511.9,652.8C518.8,652.0 525.6,650.9 532.5,649.4C539.3,648.0 546.2,646.2 553.0,644.1C559.8,642.0 566.7,639.5 573.5,636.7C580.4,633.9 587.2,630.7 594.0,627.4C600.9,624.1 607.7,620.6 614.6,617.2C621.4,613.8 628.3,610.5 635.1,607.5C641.9,604.5 648.8,601.7 655.6,599.3C662.5,596.8 669.3,594.7 676.1,592.8C683.0,590.8 689.8,589.1 696.7,587.5C703.5,586.0 710.4,584.5 717.2,583.2C724.0,581.8 730.9,580.5 737.7,579.3C744.6,578.0 751.4,576.8 758.2,575.6C765.1,574.5 771.9,573.3 778.8,572.2C785.6,571.0 792.5,569.9 799.3,568.7M470.9,655.4C477.7,655.1 484.6,654.9 491.4,654.5C498.3,654.0 505.1,653.4 511.9,652.4C518.8,651.5 525.6,650.3 532.5,648.8C539.3,647.3 546.2,645.5 553.0,643.4C559.8,641.4 566.7,639.1 573.5,636.6C580.4,634.2 587.2,631.6 594.0,628.9C600.9,626.2 607.7,623.4 614.6,620.6C621.4,617.9 628.3,615.2 635.1,612.6C641.9,609.9 648.8,607.4 655.6,605.0C662.5,602.6 669.3,600.3 676.1,598.1C683.0,595.9 689.8,593.8 696.7,591.8C703.5,589.8 710.4,587.8 717.2,585.8C724.0,583.9 730.9,582.0 737.7,580.1C744.6,578.3 751.4,576.4 758.2,574.6C765.1,572.7 771.9,570.9 778.8,569.1C785.6,567.2 792.5,565.4 799.3,563.6M470.9,655.8C477.7,655.8 484.6,655.8 491.4,655.8C498.3,655.8 505.1,655.7 511.9,655.7C518.8,655.7 525.6,655.7 532.5,655.6C539.3,655.6 546.2,655.5 553.0,655.4C559.8,655.4 566.7,655.3 573.5,655.2C580.4,655.1 587.2,655.0 594.0,654.9C600.9,654.8 607.7,654.7 614.6,654.6C621.4,654.5 628.3,654.5 635.1,654.4C641.9,654.3 648.8,654.3 655.6,654.3C662.5,654.2 669.3,654.2 676.1,654.2C683.0,654.2 689.8,654.2 696.7,654.1C703.5,654.1 710.4,654.1 717.2,654.1C724.0,654.1 730.9,654.1 737.7,654.1C744.6,654.1 751.4,654.1 758.2,654.1C765.1,654.1 771.9,654.1 778.8,654.1C785.6,654.1 792.5,654.1 799.3,654.1M470.9,655.8C477.7,655.8 484.6,655.8 491.4,655.8C498.3,655.8 505.1,655.8 511.9,655.7C518.8,655.7 525.6,655.7 532.5,655.7C539.3,655.6 546.2,655.6 553.0,655.5C559.8,655.5 566.7,655.4 573.5,655.3C580.4,655.2 587.2,655.1 594.0,655.0C600.9,654.9 607.7,654.8 614.6,654.8C621.4,654.7 628.3,654.6 635.1,654.6C641.9,654.5 648.8,654.5 655.6,654.4C662.5,654.4 669.3,654.4 676.1,654.3C683.0,654.3 689.8,654.3 696.7,654.3C703.5,654.3 710.4,654.3 717.2,654.3C724.0,654.3 730.9,654.3 737.7,654.3C744.6,654.2 751.4,654.2 758.2,654.2C765.1,654.2 771.9,654.2 778.8,654.2C785.6,654.2 792.5,654.2 799.3,654.2M470.9,655.8C477.7,655.8 484.6,655.8 491.4,655.7C498.3,655.7 505.1,655.7 511.9,655.7C518.8,655.6 525.6,655.6 532.5,655.5C539.3,655.5 546.2,655.4 553.0,655.4C559.8,655.3 566.7,655.2 573.5,655.2C580.4,655.1 587.2,655.0 594.0,655.0C600.9,654.9 607.7,654.8 614.6,654.8C621.4,654.7 628.3,654.7 635.1,654.7C641.9,654.6 648.8,654.6 655.6,654.6C662.5,654.6 669.3,654.6 676.1,654.6C683.0,654.5 689.8,654.5 696.7,654.5C703.5,654.5 710.4,654.5 717.2,654.5C724.0,654.5 730.9,654.5 737.7,654.5C744.6,654.5 751.4,654.5 758.2,654.5C765.1,654.5 771.9,654.5 778.8,654.5C785.6,654.5 792.5,654.5 799.3,654.5M470.9,655.8C477.7,655.8 484.6,655.7 491.4,655.7C498.3,655.6 505.1,655.6 511.9,655.5C518.8,655.4 525.6,655.3 532.5,655.2C539.3,655.1 546.2,655.0 553.0,654.9C559.8,654.8 566.7,654.7 573.5,654.6C580.4,654.4 587.2,654.3 594.0,654.2C600.9,654.1 607.7,654.0 614.6,653.9C621.4,653.8 628.3,653.8 635.1,653.7C641.9,653.6 648.8,653.6 655.6,653.5C662.5,653.5 669.3,653.4 676.1,653.4C683.0,653.3 689.8,653.3 696.7,653.3C703.5,653.3 710.4,653.2 717.2,653.2C724.0,653.2 730.9,653.2 737.7,653.2C744.6,653.1 751.4,653.1 758.2,653.1C765.1,653.1 771.9,653.1 778.8,653.1C785.6,653.1 792.5,653.0 799.3,653.0M470.9,655.8C477.7,655.8 484.6,655.7 491.4,655.7C498.3,655.6 505.1,655.6 511.9,655.5C518.8,655.4 525.6,655.3 532.5,655.1C539.3,655.0 546.2,654.8 553.0,654.7C559.8,654.5 566.7,654.3 573.5,654.2C580.4,654.0 587.2,653.8 594.0,653.7C600.9,653.6 607.7,653.5 614.6,653.4C621.4,653.3 628.3,653.3 635.1,653.2C641.9,653.2 648.8,653.1 655.6,653.1C662.5,653.0 669.3,653.0 676.1,653.0C683.0,653.0 689.8,653.0 696.7,652.9C703.5,652.9 710.4,652.9 717.2,652.9C724.0,652.9 730.9,652.8 737.7,652.8C744.6,652.8 751.4,652.8 758.2,652.8C765.1,652.8 771.9,652.8 778.8,652.7C785.6,652.7 792.5,652.7 799.3,652.7M470.9,655.8C477.7,655.8 484.6,655.8 491.4,655.8C498.3,655.8 505.1,655.7 511.9,655.7C518.8,655.7 525.6,655.6 532.5,655.5C539.3,655.4 546.2,655.3 553.0,655.2C559.8,655.0 566.7,654.8 573.5,654.6C580.4,654.3 587.2,654.1 594.0,653.8C600.9,653.5 607.7,653.3 614.6,653.1C621.4,652.9 628.3,652.8 635.1,652.7C641.9,652.6 648.8,652.5 655.6,652.5C662.5,652.4 669.3,652.4 676.1,652.3C683.0,652.3 689.8,652.3 696.7,652.3C703.5,652.3 710.4,652.3 717.2,652.2C724.0,652.2 730.9,652.2 737.7,652.2C744.6,652.2 751.4,652.2 758.2,652.2C765.1,652.2 771.9,652.2 778.8,652.2C785.6,652.1 792.5,652.1 799.3,652.1M470.9,655.8C477.7,655.8 484.6,655.7 491.4,655.7C498.3,655.6 505.1,655.6 511.9,655.5C518.8,655.4 525.6,655.3 532.5,655.2C539.3,655.1 546.2,654.9 553.0,654.8C559.8,654.6 566.7,654.4 573.5,654.3C580.4,654.1 587.2,653.9 594.0,653.7C600.9,653.6 607.7,653.4 614.6,653.3C621.4,653.2 628.3,653.1 635.1,653.0C641.9,652.9 648.8,652.8 655.6,652.8C662.5,652.7 669.3,652.7 676.1,652.6C683.0,652.6 689.8,652.6 696.7,652.5C703.5,652.5 710.4,652.5 717.2,652.5C724.0,652.4 730.9,652.4 737.7,652.4C744.6,652.4 751.4,652.4 758.2,652.4C765.1,652.3 771.9,652.3 778.8,652.3C785.6,652.3 792.5,652.3 799.3,652.3M470.9,655.8C477.7,655.7 484.6,655.7 491.4,655.6C498.3,655.6 505.1,655.5 511.9,655.3C518.8,655.2 525.6,655.0 532.5,654.8C539.3,654.7 546.2,654.4 553.0,654.2C559.8,653.9 566.7,653.6 573.5,653.4C580.4,653.1 587.2,652.9 594.0,652.7C600.9,652.5 607.7,652.3 614.6,652.1C621.4,652.0 628.3,651.9 635.1,651.8C641.9,651.7 648.8,651.6 655.6,651.5C662.5,651.5 669.3,651.4 676.1,651.4C683.0,651.3 689.8,651.3 696.7,651.3C703.5,651.2 710.4,651.2 717.2,651.2C724.0,651.1 730.9,651.1 737.7,651.1C744.6,651.1 751.4,651.0 758.2,651.0C765.1,651.0 771.9,651.0 778.8,650.9C785.6,650.9 792.5,650.9 799.3,650.9M470.9,655.8C477.7,655.8 484.6,655.7 491.4,655.6C498.3,655.6 505.1,655.4 511.9,655.3C518.8,655.2 525.6,655.0 532.5,654.7C539.3,654.5 546.2,654.2 553.0,653.9C559.8,653.7 566.7,653.3 573.5,653.1C580.4,652.8 587.2,652.5 594.0,652.3C600.9,652.1 607.7,651.9 614.6,651.8C621.4,651.7 628.3,651.6 635.1,651.5C641.9,651.4 648.8,651.4 655.6,651.4C662.5,651.3 669.3,651.3 676.1,651.3C683.0,651.3 689.8,651.2 696.7,651.2C703.5,651.2 710.4,651.2 717.2,651.2C724.0,651.2 730.9,651.2 737.7,651.2C744.6,651.2 751.4,651.2 758.2,651.2C765.1,651.2 771.9,651.2 778.8,651.2C785.6,651.2 792.5,651.2 799.3,651.2M470.9,655.8C477.7,655.7 484.6,655.7 491.4,655.6C498.3,655.5 505.1,655.4 511.9,655.3C518.8,655.1 525.6,654.9 532.5,654.7C539.3,654.5 546.2,654.2 553.0,653.8C559.8,653.5 566.7,653.1 573.5,652.8C580.4,652.4 587.2,652.0 594.0,651.7C600.9,651.4 607.7,651.1 614.6,650.8C621.4,650.6 628.3,650.4 635.1,650.3C641.9,650.1 648.8,650.0 655.6,649.9C662.5,649.8 669.3,649.8 676.1,649.7C683.0,649.7 689.8,649.6 696.7,649.6C703.5,649.6 710.4,649.5 717.2,649.5C724.0,649.5 730.9,649.5 737.7,649.5C744.6,649.5 751.4,649.4 758.2,649.4C765.1,649.4 771.9,649.4 778.8,649.4C785.6,649.4 792.5,649.4 799.3,649.4M470.9,655.8C477.7,655.7 484.6,655.6 491.4,655.5C498.3,655.3 505.1,655.2 511.9,655.0C518.8,654.8 525.6,654.5 532.5,654.3C539.3,654.0 546.2,653.7 553.0,653.4C559.8,653.0 566.7,652.7 573.5,652.4C580.4,652.0 587.2,651.7 594.0,651.4C600.9,651.1 607.7,650.8 614.6,650.6C621.4,650.4 628.3,650.2 635.1,650.0C641.9,649.8 648.8,649.7 655.6,649.6C662.5,649.4 669.3,649.3 676.1,649.3C683.0,649.2 689.8,649.1 696.7,649.1C703.5,649.0 710.4,649.0 717.2,648.9C724.0,648.9 730.9,648.8 737.7,648.8C744.6,648.8 751.4,648.7 758.2,648.7C765.1,648.7 771.9,648.7 778.8,648.6C785.6,648.6 792.5,648.6 799.3,648.6M470.9,655.8C477.7,655.7 484.6,655.7 491.4,655.6C498.3,655.6 505.1,655.4 511.9,655.3C518.8,655.2 525.6,655.0 532.5,654.8C539.3,654.5 546.2,654.2 553.0,653.9C559.8,653.6 566.7,653.2 573.5,652.7C580.4,652.3 587.2,651.9 594.0,651.4C600.9,651.0 607.7,650.6 614.6,650.3C621.4,650.0 628.3,649.7 635.1,649.4C641.9,649.2 648.8,649.0 655.6,648.9C662.5,648.7 669.3,648.6 676.1,648.6C683.0,648.5 689.8,648.4 696.7,648.4C703.5,648.3 710.4,648.3 717.2,648.2C724.0,648.2 730.9,648.2 737.7,648.2C744.6,648.1 751.4,648.1 758.2,648.1C765.1,648.1 771.9,648.1 778.8,648.0C785.6,648.0 792.5,648.0 799.3,648.0M470.9,655.8C477.7,655.7 484.6,655.7 491.4,655.6C498.3,655.4 505.1,655.3 511.9,655.0C518.8,654.7 525.6,654.3 532.5,653.8C539.3,653.3 546.2,652.7 553.0,652.0C559.8,651.4 566.7,650.7 573.5,650.2C580.4,649.7 587.2,649.3 594.0,649.0C600.9,648.7 607.7,648.5 614.6,648.3C621.4,648.2 628.3,648.1 635.1,648.0C641.9,647.9 648.8,647.8 655.6,647.8C662.5,647.7 669.3,647.7 676.1,647.6C683.0,647.6 689.8,647.6 696.7,647.5C703.5,647.5 710.4,647.4 717.2,647.4C724.0,647.4 730.9,647.3 737.7,647.3C744.6,647.3 751.4,647.2 758.2,647.2C765.1,647.1 771.9,647.1 778.8,647.1C785.6,647.0 792.5,647.0 799.3,647.0M470.9,655.8C477.7,655.7 484.6,655.7 491.4,655.6C498.3,655.5 505.1,655.4 511.9,655.2C518.8,655.0 525.6,654.7 532.5,654.2C539.3,653.8 546.2,653.2 553.0,652.5C559.8,651.9 566.7,651.2 573.5,650.5C580.4,649.9 587.2,649.4 594.0,649.0C600.9,648.6 607.7,648.3 614.6,648.1C621.4,647.9 628.3,647.7 635.1,647.6C641.9,647.5 648.8,647.5 655.6,647.4C662.5,647.3 669.3,647.3 676.1,647.2C683.0,647.2 689.8,647.1 696.7,647.1C703.5,647.1 710.4,647.0 717.2,647.0C724.0,647.0 730.9,646.9 737.7,646.9C744.6,646.8 751.4,646.8 758.2,646.8C765.1,646.7 771.9,646.7 778.8,646.7C785.6,646.6 792.5,646.6 799.3,646.6M470.9,655.8C477.7,655.8 484.6,655.7 491.4,655.6C498.3,655.6 505.1,655.5 511.9,655.4C518.8,655.2 525.6,655.0 532.5,654.8C539.3,654.5 546.2,654.2 553.0,653.8C559.8,653.4 566.7,652.8 573.5,652.3C580.4,651.7 587.2,651.0 594.0,650.4C600.9,649.8 607.7,649.2 614.6,648.7C621.4,648.1 628.3,647.7 635.1,647.4C641.9,647.0 648.8,646.7 655.6,646.5C662.5,646.3 669.3,646.2 676.1,646.1C683.0,645.9 689.8,645.8 696.7,645.8C703.5,645.7 710.4,645.6 717.2,645.6C724.0,645.5 730.9,645.5 737.7,645.4C744.6,645.4 751.4,645.3 758.2,645.3C765.1,645.3 771.9,645.2 778.8,645.2C785.6,645.2 792.5,645.1 799.3,645.1M470.9,655.8C477.7,655.7 484.6,655.6 491.4,655.4C498.3,655.2 505.1,655.0 511.9,654.8C518.8,654.5 525.6,654.2 532.5,653.8C539.3,653.5 546.2,653.0 553.0,652.5C559.8,652.0 566.7,651.5 573.5,650.9C580.4,650.4 587.2,649.8 594.0,649.2C600.9,648.7 607.7,648.2 614.6,647.7C621.4,647.3 628.3,646.9 635.1,646.5C641.9,646.2 648.8,645.9 655.6,645.7C662.5,645.4 669.3,645.2 676.1,645.1C683.0,644.9 689.8,644.8 696.7,644.7C703.5,644.7 710.4,644.6 717.2,644.5C724.0,644.5 730.9,644.4 737.7,644.4C744.6,644.4 751.4,644.3 758.2,644.3C765.1,644.3 771.9,644.3 778.8,644.3C785.6,644.3 792.5,644.2 799.3,644.2M470.9,655.8C477.7,655.7 484.6,655.7 491.4,655.6C498.3,655.5 505.1,655.3 511.9,655.1C518.8,654.9 525.6,654.6 532.5,654.3C539.3,653.9 546.2,653.4 553.0,652.8C559.8,652.2 566.7,651.5 573.5,650.7C580.4,649.9 587.2,649.1 594.0,648.3C600.9,647.6 607.7,646.9 614.6,646.3C621.4,645.8 628.3,645.3 635.1,645.0C641.9,644.6 648.8,644.4 655.6,644.2C662.5,644.0 669.3,643.8 676.1,643.7C683.0,643.6 689.8,643.6 696.7,643.5C703.5,643.5 710.4,643.4 717.2,643.4C724.0,643.4 730.9,643.3 737.7,643.3C744.6,643.3 751.4,643.3 758.2,643.3C765.1,643.2 771.9,643.2 778.8,643.2C785.6,643.2 792.5,643.2 799.3,643.2M470.9,655.8C477.7,655.7 484.6,655.7 491.4,655.5C498.3,655.4 505.1,655.3 511.9,655.1C518.8,654.9 525.6,654.6 532.5,654.2C539.3,653.9 546.2,653.4 553.0,652.9C559.8,652.3 566.7,651.7 573.5,651.0C580.4,650.3 587.2,649.5 594.0,648.7C600.9,648.0 607.7,647.3 614.6,646.6C621.4,646.0 628.3,645.4 635.1,645.0C641.9,644.5 648.8,644.2 655.6,643.9C662.5,643.6 669.3,643.4 676.1,643.2C683.0,643.1 689.8,642.9 696.7,642.8C703.5,642.7 710.4,642.7 717.2,642.6C724.0,642.5 730.9,642.5 737.7,642.5C744.6,642.4 751.4,642.4 758.2,642.4C765.1,642.3 771.9,642.3 778.8,642.3C785.6,642.2 792.5,642.2 799.3,642.2M470.9,655.8C477.7,655.6 484.6,655.5 491.4,655.3C498.3,655.1 505.1,654.8 511.9,654.4C518.8,654.0 525.6,653.5 532.5,652.9C539.3,652.3 546.2,651.7 553.0,650.9C559.8,650.2 566.7,649.3 573.5,648.6C580.4,647.8 587.2,647.0 594.0,646.4C600.9,645.7 607.7,645.2 614.6,644.7C621.4,644.2 628.3,643.8 635.1,643.5C641.9,643.2 648.8,643.0 655.6,642.8C662.5,642.6 669.3,642.4 676.1,642.2C683.0,642.1 689.8,642.0 696.7,641.9C703.5,641.8 710.4,641.7 717.2,641.6C724.0,641.5 730.9,641.4 737.7,641.3C744.6,641.2 751.4,641.2 758.2,641.1C765.1,641.0 771.9,640.9 778.8,640.9C785.6,640.8 792.5,640.7 799.3,640.7M470.9,655.8C477.7,655.7 484.6,655.5 491.4,655.4C498.3,655.2 505.1,654.9 511.9,654.5C518.8,654.2 525.6,653.7 532.5,653.2C539.3,652.6 546.2,651.9 553.0,651.1C559.8,650.3 566.7,649.4 573.5,648.5C580.4,647.5 587.2,646.6 594.0,645.8C600.9,645.0 607.7,644.2 614.6,643.6C621.4,643.0 628.3,642.5 635.1,642.2C641.9,641.8 648.8,641.5 655.6,641.3C662.5,641.0 669.3,640.9 676.1,640.7C683.0,640.6 689.8,640.5 696.7,640.5C703.5,640.4 710.4,640.3 717.2,640.3C724.0,640.2 730.9,640.2 737.7,640.2C744.6,640.2 751.4,640.1 758.2,640.1C765.1,640.1 771.9,640.1 778.8,640.1C785.6,640.0 792.5,640.0 799.3,640.0M470.9,655.8C477.7,655.7 484.6,655.5 491.4,655.3C498.3,655.1 505.1,654.9 511.9,654.5C518.8,654.1 525.6,653.7 532.5,653.1C539.3,652.5 546.2,651.8 553.0,650.9C559.8,650.1 566.7,649.2 573.5,648.2C580.4,647.3 587.2,646.3 594.0,645.5C600.9,644.6 607.7,643.8 614.6,643.2C621.4,642.5 628.3,642.0 635.1,641.6C641.9,641.1 648.8,640.8 655.6,640.5C662.5,640.3 669.3,640.1 676.1,639.9C683.0,639.8 689.8,639.6 696.7,639.5C703.5,639.5 710.4,639.4 717.2,639.3C724.0,639.2 730.9,639.2 737.7,639.1C744.6,639.1 751.4,639.0 758.2,639.0C765.1,639.0 771.9,638.9 778.8,638.9C785.6,638.8 792.5,638.8 799.3,638.8M470.9,655.8C477.7,655.6 484.6,655.5 491.4,655.2C498.3,655.0 505.1,654.6 511.9,654.2C518.8,653.8 525.6,653.2 532.5,652.6C539.3,651.9 546.2,651.1 553.0,650.2C559.8,649.3 566.7,648.3 573.5,647.3C580.4,646.3 587.2,645.2 594.0,644.3C600.9,643.4 607.7,642.6 614.6,641.8C621.4,641.1 628.3,640.5 635.1,640.1C641.9,639.6 648.8,639.2 655.6,638.9C662.5,638.6 669.3,638.3 676.1,638.2C683.0,638.0 689.8,637.8 696.7,637.7C703.5,637.6 710.4,637.5 717.2,637.4C724.0,637.3 730.9,637.2 737.7,637.1C744.6,637.1 751.4,637.0 758.2,636.9C765.1,636.9 771.9,636.8 778.8,636.8C785.6,636.7 792.5,636.7 799.3,636.6M470.9,655.8C477.7,655.5 484.6,655.3 491.4,654.9C498.3,654.6 505.1,654.1 511.9,653.5C518.8,652.9 525.6,652.1 532.5,651.2C539.3,650.3 546.2,649.3 553.0,648.2C559.8,647.1 566.7,646.0 573.5,644.9C580.4,643.8 587.2,642.8 594.0,641.9C600.9,641.0 607.7,640.2 614.6,639.6C621.4,638.9 628.3,638.4 635.1,638.0C641.9,637.6 648.8,637.3 655.6,637.1C662.5,636.9 669.3,636.7 676.1,636.5C683.0,636.4 689.8,636.3 696.7,636.2C703.5,636.1 710.4,636.0 717.2,635.9C724.0,635.9 730.9,635.8 737.7,635.8C744.6,635.7 751.4,635.7 758.2,635.6C765.1,635.6 771.9,635.5 778.8,635.5C785.6,635.5 792.5,635.4 799.3,635.4M470.9,655.8C477.7,655.7 484.6,655.5 491.4,655.3C498.3,655.1 505.1,654.8 511.9,654.5C518.8,654.1 525.6,653.7 532.5,653.1C539.3,652.6 546.2,651.9 553.0,651.2C559.8,650.4 566.7,649.5 573.5,648.5C580.4,647.6 587.2,646.5 594.0,645.4C600.9,644.4 607.7,643.3 614.6,642.4C621.4,641.4 628.3,640.5 635.1,639.8C641.9,639.0 648.8,638.4 655.6,637.8C662.5,637.3 669.3,636.8 676.1,636.5C683.0,636.2 689.8,635.9 696.7,635.7C703.5,635.5 710.4,635.3 717.2,635.2C724.0,635.0 730.9,634.9 737.7,634.9C744.6,634.8 751.4,634.7 758.2,634.7C765.1,634.7 771.9,634.6 778.8,634.6C785.6,634.6 792.5,634.5 799.3,634.5M470.9,655.8C477.7,655.7 484.6,655.5 491.4,655.3C498.3,655.1 505.1,654.8 511.9,654.3C518.8,653.9 525.6,653.3 532.5,652.5C539.3,651.7 546.2,650.6 553.0,649.4C559.8,648.2 566.7,646.8 573.5,645.5C580.4,644.1 587.2,642.7 594.0,641.6C600.9,640.4 607.7,639.5 614.6,638.7C621.4,638.0 628.3,637.4 635.1,636.9C641.9,636.5 648.8,636.1 655.6,635.9C662.5,635.6 669.3,635.4 676.1,635.2C683.0,635.0 689.8,634.8 696.7,634.7C703.5,634.6 710.4,634.4 717.2,634.3C724.0,634.2 730.9,634.1 737.7,634.0C744.6,633.8 751.4,633.7 758.2,633.6C765.1,633.5 771.9,633.4 778.8,633.3C785.6,633.2 792.5,633.1 799.3,633.0M470.9,655.8C477.7,655.4 484.6,655.1 491.4,654.6C498.3,654.2 505.1,653.6 511.9,652.9C518.8,652.2 525.6,651.5 532.5,650.6C539.3,649.7 546.2,648.7 553.0,647.6C559.8,646.6 566.7,645.5 573.5,644.4C580.4,643.4 587.2,642.4 594.0,641.4C600.9,640.5 607.7,639.7 614.6,638.9C621.4,638.2 628.3,637.6 635.1,637.0C641.9,636.5 648.8,636.0 655.6,635.6C662.5,635.2 669.3,634.9 676.1,634.6C683.0,634.4 689.8,634.1 696.7,633.9C703.5,633.7 710.4,633.5 717.2,633.4C724.0,633.2 730.9,633.0 737.7,632.9C744.6,632.8 751.4,632.6 758.2,632.5C765.1,632.4 771.9,632.3 778.8,632.2C785.6,632.1 792.5,632.0 799.3,631.9M470.9,655.8C477.7,655.7 484.6,655.5 491.4,655.3C498.3,655.1 505.1,654.7 511.9,654.1C518.8,653.5 525.6,652.7 532.5,651.6C539.3,650.4 546.2,648.8 553.0,647.0C559.8,645.3 566.7,643.2 573.5,641.4C580.4,639.7 587.2,638.1 594.0,636.9C600.9,635.7 607.7,634.8 614.6,634.2C621.4,633.5 628.3,633.1 635.1,632.8C641.9,632.4 648.8,632.2 655.6,632.0C662.5,631.8 669.3,631.7 676.1,631.5C683.0,631.4 689.8,631.3 696.7,631.2C703.5,631.0 710.4,630.9 717.2,630.8C724.0,630.7 730.9,630.6 737.7,630.5C744.6,630.4 751.4,630.3 758.2,630.2C765.1,630.1 771.9,630.0 778.8,629.9C785.6,629.8 792.5,629.7 799.3,629.6M470.9,655.8C477.7,655.5 484.6,655.3 491.4,654.9C498.3,654.6 505.1,654.1 511.9,653.5C518.8,652.8 525.6,652.0 532.5,651.1C539.3,650.1 546.2,648.9 553.0,647.6C559.8,646.3 566.7,644.8 573.5,643.3C580.4,641.9 587.2,640.4 594.0,639.1C600.9,637.7 607.7,636.5 614.6,635.5C621.4,634.5 628.3,633.7 635.1,633.0C641.9,632.3 648.8,631.8 655.6,631.3C662.5,630.9 669.3,630.6 676.1,630.3C683.0,630.0 689.8,629.8 696.7,629.6C703.5,629.5 710.4,629.3 717.2,629.2C724.0,629.1 730.9,628.9 737.7,628.8C744.6,628.7 751.4,628.6 758.2,628.5C765.1,628.5 771.9,628.4 778.8,628.3C785.6,628.2 792.5,628.1 799.3,628.0M470.9,655.8C477.7,655.4 484.6,655.1 491.4,654.6C498.3,654.2 505.1,653.6 511.9,652.9C518.8,652.2 525.6,651.4 532.5,650.4C539.3,649.4 546.2,648.4 553.0,647.2C559.8,646.1 566.7,644.8 573.5,643.6C580.4,642.3 587.2,641.1 594.0,639.9C600.9,638.8 607.7,637.7 614.6,636.7C621.4,635.7 628.3,634.8 635.1,634.1C641.9,633.3 648.8,632.7 655.6,632.1C662.5,631.6 669.3,631.1 676.1,630.7C683.0,630.3 689.8,630.0 696.7,629.7C703.5,629.4 710.4,629.1 717.2,628.9C724.0,628.7 730.9,628.5 737.7,628.3C744.6,628.1 751.4,627.9 758.2,627.8C765.1,627.6 771.9,627.5 778.8,627.4C785.6,627.2 792.5,627.1 799.3,627.0M470.9,655.8C477.7,655.6 484.6,655.4 491.4,655.0C498.3,654.7 505.1,654.1 511.9,653.4C518.8,652.6 525.6,651.6 532.5,650.2C539.3,648.8 546.2,647.0 553.0,645.1C559.8,643.1 566.7,640.9 573.5,639.0C580.4,637.0 587.2,635.2 594.0,633.8C600.9,632.4 607.7,631.3 614.6,630.4C621.4,629.6 628.3,629.0 635.1,628.6C641.9,628.1 648.8,627.8 655.6,627.5C662.5,627.3 669.3,627.1 676.1,626.9C683.0,626.7 689.8,626.6 696.7,626.5C703.5,626.3 710.4,626.2 717.2,626.1C724.0,626.0 730.9,625.9 737.7,625.8C744.6,625.7 751.4,625.6 758.2,625.4C765.1,625.3 771.9,625.2 778.8,625.1C785.6,625.0 792.5,624.9 799.3,624.8M470.9,655.8C477.7,655.7 484.6,655.5 491.4,655.4C498.3,655.2 505.1,654.9 511.9,654.5C518.8,654.1 525.6,653.6 532.5,652.9C539.3,652.2 546.2,651.3 553.0,650.1C559.8,648.9 566.7,647.5 573.5,645.9C580.4,644.2 587.2,642.4 594.0,640.6C600.9,638.8 607.7,637.1 614.6,635.5C621.4,634.0 628.3,632.7 635.1,631.6C641.9,630.5 648.8,629.7 655.6,629.0C662.5,628.4 669.3,627.9 676.1,627.4C683.0,627.0 689.8,626.7 696.7,626.4C703.5,626.2 710.4,626.0 717.2,625.8C724.0,625.6 730.9,625.4 737.7,625.2C744.6,625.1 751.4,624.9 758.2,624.8C765.1,624.6 771.9,624.5 778.8,624.4C785.6,624.2 792.5,624.1 799.3,624.0M470.9,655.8C477.7,655.5 484.6,655.2 491.4,654.6C498.3,654.1 505.1,653.3 511.9,652.2C518.8,651.1 525.6,649.7 532.5,647.9C539.3,646.1 546.2,644.0 553.0,641.8C559.8,639.6 566.7,637.3 573.5,635.3C580.4,633.4 587.2,631.7 594.0,630.4C600.9,629.1 607.7,628.2 614.6,627.4C621.4,626.7 628.3,626.2 635.1,625.8C641.9,625.4 648.8,625.1 655.6,624.9C662.5,624.7 669.3,624.5 676.1,624.3C683.0,624.2 689.8,624.0 696.7,623.9C703.5,623.8 710.4,623.7 717.2,623.6C724.0,623.5 730.9,623.4 737.7,623.3C744.6,623.2 751.4,623.1 758.2,623.0C765.1,622.9 771.9,622.8 778.8,622.7C785.6,622.6 792.5,622.5 799.3,622.4M470.9,655.8C477.7,655.5 484.6,655.2 491.4,654.9C498.3,654.5 505.1,654.0 511.9,653.4C518.8,652.8 525.6,652.1 532.5,651.2C539.3,650.3 546.2,649.3 553.0,648.1C559.8,646.9 566.7,645.5 573.5,644.1C580.4,642.6 587.2,641.1 594.0,639.6C600.9,638.0 607.7,636.5 614.6,635.1C621.4,633.6 628.3,632.3 635.1,631.1C641.9,629.9 648.8,628.8 655.6,627.9C662.5,627.0 669.3,626.2 676.1,625.6C683.0,624.9 689.8,624.4 696.7,623.9C703.5,623.4 710.4,623.0 717.2,622.7C724.0,622.3 730.9,622.0 737.7,621.8C744.6,621.5 751.4,621.3 758.2,621.1C765.1,620.9 771.9,620.7 778.8,620.5C785.6,620.3 792.5,620.2 799.3,620.0M470.9,655.8C477.7,655.7 484.6,655.7 491.4,655.6C498.3,655.4 505.1,655.3 511.9,654.9C518.8,654.6 525.6,654.2 532.5,653.5C539.3,652.8 546.2,651.8 553.0,650.3C559.8,648.8 566.7,646.8 573.5,644.3C580.4,641.8 587.2,638.9 594.0,636.0C600.9,633.2 607.7,630.4 614.6,628.2C621.4,626.0 628.3,624.4 635.1,623.2C641.9,622.0 648.8,621.2 655.6,620.6C662.5,620.1 669.3,619.7 676.1,619.5C683.0,619.2 689.8,619.1 696.7,618.9C703.5,618.8 710.4,618.8 717.2,618.7C724.0,618.6 730.9,618.6 737.7,618.5C744.6,618.5 751.4,618.5 758.2,618.4C765.1,618.4 771.9,618.4 778.8,618.3C785.6,618.3 792.5,618.3 799.3,618.3M470.9,655.8C477.7,655.6 484.6,655.5 491.4,655.2C498.3,654.9 505.1,654.6 511.9,654.0C518.8,653.4 525.6,652.7 532.5,651.6C539.3,650.6 546.2,649.2 553.0,647.5C559.8,645.7 566.7,643.6 573.5,641.3C580.4,639.0 587.2,636.5 594.0,634.1C600.9,631.8 607.7,629.6 614.6,627.8C621.4,625.9 628.3,624.5 635.1,623.3C641.9,622.2 648.8,621.3 655.6,620.7C662.5,620.0 669.3,619.6 676.1,619.2C683.0,618.8 689.8,618.6 696.7,618.4C703.5,618.2 710.4,618.0 717.2,617.9C724.0,617.7 730.9,617.6 737.7,617.5C744.6,617.4 751.4,617.3 758.2,617.2C765.1,617.1 771.9,617.1 778.8,617.0C785.6,616.9 792.5,616.8 799.3,616.8M470.9,655.8C477.7,655.1 484.6,654.4 491.4,653.4C498.3,652.4 505.1,651.2 511.9,649.8C518.8,648.4 525.6,646.7 532.5,644.9C539.3,643.0 546.2,641.0 553.0,638.9C559.8,636.8 566.7,634.7 573.5,632.7C580.4,630.7 587.2,628.9 594.0,627.3C600.9,625.6 607.7,624.2 614.6,623.0C621.4,621.8 628.3,620.9 635.1,620.1C641.9,619.3 648.8,618.7 655.6,618.2C662.5,617.7 669.3,617.3 676.1,617.0C683.0,616.6 689.8,616.4 696.7,616.2C703.5,616.0 710.4,615.8 717.2,615.7C724.0,615.6 730.9,615.5 737.7,615.4C744.6,615.3 751.4,615.2 758.2,615.2C765.1,615.1 771.9,615.0 778.8,615.0C785.6,614.9 792.5,614.9 799.3,614.8M470.9,655.8C477.7,655.2 484.6,654.6 491.4,653.8C498.3,653.1 505.1,652.1 511.9,650.9C518.8,649.8 525.6,648.5 532.5,647.0C539.3,645.4 546.2,643.8 553.0,642.0C559.8,640.2 566.7,638.3 573.5,636.4C580.4,634.6 587.2,632.7 594.0,631.0C600.9,629.3 607.7,627.7 614.6,626.3C621.4,624.9 628.3,623.7 635.1,622.6C641.9,621.5 648.8,620.6 655.6,619.8C662.5,619.1 669.3,618.4 676.1,617.9C683.0,617.3 689.8,616.9 696.7,616.5C703.5,616.1 710.4,615.8 717.2,615.5C724.0,615.2 730.9,614.9 737.7,614.7C744.6,614.5 751.4,614.3 758.2,614.1C765.1,613.9 771.9,613.7 778.8,613.5C785.6,613.4 792.5,613.2 799.3,613.1M470.9,655.8C477.7,655.4 484.6,655.1 491.4,654.6C498.3,654.1 505.1,653.3 511.9,652.3C518.8,651.3 525.6,649.9 532.5,648.2C539.3,646.5 546.2,644.4 553.0,642.0C559.8,639.6 566.7,637.0 573.5,634.3C580.4,631.7 587.2,629.2 594.0,626.9C600.9,624.7 607.7,622.8 614.6,621.3C621.4,619.8 628.3,618.6 635.1,617.6C641.9,616.7 648.8,616.0 655.6,615.4C662.5,614.9 669.3,614.5 676.1,614.1C683.0,613.8 689.8,613.5 696.7,613.2C703.5,613.0 710.4,612.8 717.2,612.6C724.0,612.4 730.9,612.2 737.7,612.1C744.6,611.9 751.4,611.8 758.2,611.6C765.1,611.5 771.9,611.3 778.8,611.2C785.6,611.0 792.5,610.9 799.3,610.7M470.9,655.5C474.2,655.8 477.5,656.1 480.9,655.7C484.2,655.3 487.5,654.1 490.8,652.5C494.1,650.9 497.4,648.9 500.8,646.6C504.1,644.3 507.4,641.6 510.7,638.8C514.0,636.0 517.3,633.0 520.7,629.8C524.0,626.7 527.3,623.4 530.6,620.0C533.9,616.6 537.2,613.1 540.6,609.6C543.9,606.0 547.2,602.4 550.5,598.8C553.8,595.2 557.1,591.6 560.5,588.0C563.8,584.3 567.1,580.6 570.4,576.8C573.7,573.0 577.0,569.2 580.4,565.2C583.7,561.2 587.0,557.1 590.3,552.8C593.6,548.6 597.0,544.2 600.3,539.6C603.6,535.0 606.9,530.2 610.2,525.3C613.5,520.5 616.9,515.5 620.2,510.5C623.5,505.6 626.8,500.6 630.1,495.8C633.4,490.9 636.8,486.1 640.1,481.4C643.4,476.7 646.7,472.0 650.0,467.5C653.3,463.0 656.7,458.5 660.0,454.2C663.3,449.9 666.6,445.7 669.9,441.6C673.2,437.5 676.6,433.5 679.9,429.7C683.2,425.9 686.5,422.2 689.8,418.7C693.2,415.2 696.5,411.9 699.8,408.7C703.1,405.5 706.4,402.5 709.7,399.7C713.1,396.9 716.4,394.3 719.7,391.9C723.0,389.5 726.3,387.3 729.6,385.3C733.0,383.4 736.3,381.6 739.6,380.1C742.9,378.6 746.2,377.3 749.5,376.3C752.9,375.3 756.2,374.5 759.5,374.0C762.8,373.5 766.1,373.3 769.4,373.4C772.8,373.5 776.1,373.8 779.4,374.5C782.7,375.1 786.0,376.0 789.3,377.3C792.7,378.7 796.0,380.4 799.3,382.1M470.9,655.5C474.2,656.0 477.5,656.4 480.9,656.3C484.2,656.2 487.5,655.5 490.8,654.4C494.1,653.3 497.4,651.9 500.8,650.1C504.1,648.3 507.4,646.2 510.7,643.7C514.0,641.3 517.3,638.6 520.7,635.6C524.0,632.6 527.3,629.4 530.6,626.0C533.9,622.6 537.2,619.0 540.6,615.3C543.9,611.6 547.2,607.7 550.5,603.8C553.8,599.8 557.1,595.8 560.5,591.7C563.8,587.6 567.1,583.4 570.4,579.2C573.7,575.0 577.0,570.8 580.4,566.5C583.7,562.2 587.0,557.8 590.3,553.5C593.6,549.2 597.0,544.8 600.3,540.4C603.6,536.1 606.9,531.7 610.2,527.4C613.5,523.1 616.9,518.7 620.2,514.5C623.5,510.2 626.8,505.9 630.1,501.7C633.4,497.5 636.8,493.4 640.1,489.3C643.4,485.2 646.7,481.2 650.0,477.2C653.3,473.3 656.7,469.4 660.0,465.6C663.3,461.8 666.6,458.1 669.9,454.5C673.2,450.9 676.6,447.4 679.9,444.0C683.2,440.5 686.5,437.2 689.8,434.0C693.2,430.8 696.5,427.8 699.8,424.8C703.1,421.9 706.4,419.0 709.7,416.3C713.1,413.6 716.4,411.0 719.7,408.6C723.0,406.1 726.3,403.8 729.6,401.6C733.0,399.4 736.3,397.3 739.6,395.3C742.9,393.4 746.2,391.6 749.5,389.9C752.9,388.2 756.2,386.6 759.5,385.1C762.8,383.7 766.1,382.4 769.4,381.2C772.8,380.0 776.1,378.9 779.4,378.0C782.7,377.1 786.0,376.3 789.3,375.6C792.7,375.0 796.0,374.5 799.3,374.0M470.9,655.5C474.2,655.9 477.5,656.2 480.8,656.2C484.2,656.2 487.5,655.8 490.8,655.2C494.1,654.6 497.4,653.7 500.7,652.6C504.0,651.5 507.3,650.1 510.7,648.5C514.0,646.9 517.3,645.0 520.6,643.0C523.9,640.9 527.2,638.6 530.5,636.1C533.8,633.7 537.2,631.0 540.5,628.3C543.8,625.6 547.1,622.8 550.4,620.2C553.7,617.6 557.0,615.2 560.4,612.9C563.7,610.6 567.0,608.4 570.3,606.4C573.6,604.3 576.9,602.4 580.2,600.6C583.5,598.7 586.9,596.9 590.2,595.2C593.5,593.4 596.8,591.7 600.1,590.0C603.4,588.3 606.7,586.7 610.1,585.0C613.4,583.2 616.7,581.5 620.0,579.7C623.3,577.9 626.6,576.0 629.9,574.1C633.2,572.2 636.6,570.2 639.9,568.2C643.2,566.2 646.5,564.1 649.8,562.0C653.1,559.9 656.4,557.8 659.7,555.6C663.1,553.4 666.4,551.2 669.7,548.9C673.0,546.7 676.3,544.4 679.6,542.1C682.9,539.8 686.3,537.6 689.6,535.3C692.9,532.9 696.2,530.6 699.5,528.3C702.8,526.0 706.1,523.7 709.4,521.4C712.8,519.1 716.1,516.8 719.4,514.6C722.7,512.3 726.0,510.1 729.3,507.8C732.6,505.6 736.0,503.4 739.3,501.3C742.6,499.1 745.9,497.0 749.2,494.9C752.5,492.8 755.8,490.8 759.1,488.8C762.5,486.9 765.8,484.9 769.1,483.1C772.4,481.2 775.7,479.4 779.0,477.7C782.3,475.9 785.6,474.3 789.0,472.7C792.3,471.1 795.6,469.7 798.9,468.2M470.9,655.5C474.2,655.3 477.5,655.1 480.8,654.8C484.2,654.5 487.5,654.0 490.8,653.5C494.1,653.0 497.4,652.4 500.7,651.7C504.0,651.0 507.3,650.1 510.7,649.2C514.0,648.2 517.3,647.2 520.6,646.0C523.9,644.8 527.2,643.5 530.5,642.0C533.8,640.5 537.2,638.9 540.5,637.2C543.8,635.4 547.1,633.5 550.4,631.4C553.7,629.4 557.0,627.1 560.4,624.8C563.7,622.4 567.0,619.8 570.3,617.1C573.6,614.4 576.9,611.5 580.2,608.5C583.5,605.5 586.9,602.4 590.2,599.2C593.5,596.0 596.8,592.6 600.1,589.3C603.4,586.0 606.7,582.7 610.1,579.5C613.4,576.3 616.7,573.2 620.0,570.4C623.3,567.6 626.6,564.9 629.9,562.5C633.2,560.1 636.6,557.9 639.9,555.8C643.2,553.7 646.5,551.8 649.8,550.1C653.1,548.3 656.4,546.7 659.7,545.1C663.1,543.6 666.4,542.2 669.7,540.8C673.0,539.4 676.3,538.2 679.6,536.9C682.9,535.6 686.3,534.4 689.6,533.2C692.9,532.0 696.2,530.8 699.5,529.5C702.8,528.3 706.1,527.1 709.4,525.9C712.8,524.7 716.1,523.6 719.4,522.6C722.7,521.5 726.0,520.6 729.3,519.7C732.6,518.8 736.0,518.0 739.3,517.3C742.6,516.5 745.9,515.8 749.2,515.1C752.5,514.4 755.8,513.7 759.1,513.0C762.5,512.4 765.8,511.7 769.1,511.0C772.4,510.3 775.7,509.6 779.0,508.9C782.3,508.2 785.6,507.4 789.0,506.6C792.3,505.8 795.6,504.9 798.9,504.0M470.9,655.5C474.2,655.7 477.5,656.0 480.8,656.1C484.2,656.2 487.5,656.2 490.8,656.1C494.1,656.0 497.4,655.8 500.7,655.5C504.0,655.2 507.3,654.8 510.7,654.3C514.0,653.8 517.3,653.2 520.6,652.5C523.9,651.8 527.2,650.9 530.5,650.0C533.8,649.1 537.2,648.1 540.5,646.9C543.8,645.8 547.1,644.5 550.4,643.2C553.7,641.8 557.0,640.3 560.4,638.7C563.7,637.1 567.0,635.4 570.3,633.6C573.6,631.8 576.9,629.9 580.2,628.0C583.5,626.0 586.9,623.9 590.2,621.8C593.5,619.7 596.8,617.5 600.1,615.3C603.4,613.1 606.7,610.9 610.1,608.6C613.4,606.4 616.7,604.1 620.0,601.8C623.3,599.5 626.6,597.3 629.9,595.0C633.2,592.7 636.6,590.5 639.9,588.3C643.2,586.1 646.5,583.9 649.8,581.8C653.1,579.7 656.4,577.7 659.7,575.7C663.1,573.7 666.4,571.7 669.7,569.8C673.0,567.8 676.3,565.9 679.6,564.0C682.9,562.1 686.3,560.2 689.6,558.3C692.9,556.4 696.2,554.5 699.5,552.6C702.8,550.7 706.1,548.7 709.4,546.7C712.8,544.7 716.1,542.7 719.4,540.6C722.7,538.5 726.0,536.3 729.3,534.1C732.6,531.9 736.0,529.7 739.3,527.5C742.6,525.3 745.9,523.1 749.2,520.9C752.5,518.7 755.8,516.5 759.1,514.3C762.5,512.1 765.8,510.0 769.1,508.0C772.4,505.9 775.7,503.9 779.0,502.0C782.3,500.1 785.6,498.2 789.0,496.5C792.3,494.8 795.6,493.3 798.9,491.7M470.9,655.5C474.2,655.5 477.5,655.4 480.8,655.3C484.2,655.3 487.5,655.1 490.8,655.0C494.1,654.8 497.4,654.7 500.7,654.5C504.0,654.3 507.3,654.0 510.7,653.8C514.0,653.5 517.3,653.2 520.6,652.8C523.9,652.5 527.2,652.1 530.5,651.7C533.8,651.3 537.2,650.9 540.5,650.4C543.8,649.9 547.1,649.3 550.4,648.8C553.7,648.2 557.0,647.6 560.4,646.9C563.7,646.3 567.0,645.6 570.3,644.9C573.6,644.1 576.9,643.3 580.2,642.5C583.5,641.7 586.9,640.8 590.2,639.8C593.5,638.9 596.8,637.9 600.1,636.8C603.4,635.7 606.7,634.6 610.1,633.3C613.4,632.1 616.7,630.7 620.0,629.3C623.3,627.8 626.6,626.3 629.9,624.6C633.2,622.9 636.6,621.1 639.9,619.1C643.2,617.1 646.5,615.0 649.8,612.8C653.1,610.6 656.4,608.3 659.7,605.9C663.1,603.5 666.4,601.0 669.7,598.5C673.0,596.0 676.3,593.4 679.6,590.8C682.9,588.2 686.3,585.6 689.6,583.0C692.9,580.4 696.2,577.8 699.5,575.3C702.8,572.7 706.1,570.2 709.4,567.7C712.8,565.1 716.1,562.6 719.4,560.1C722.7,557.7 726.0,555.2 729.3,552.7C732.6,550.3 736.0,547.9 739.3,545.4C742.6,543.0 745.9,540.6 749.2,538.2C752.5,535.9 755.8,533.5 759.1,531.2C762.5,528.9 765.8,526.7 769.1,524.5C772.4,522.3 775.7,520.2 779.0,518.1C782.3,516.1 785.6,514.1 789.0,512.3C792.3,510.5 795.6,508.8 798.9,507.1M470.9,619.6C473.3,619.5 475.6,619.5 478.0,619.5C480.1,619.5 482.3,619.8 484.4,620.0C487.6,620.4 490.8,621.2 494.0,622.0C497.2,622.8 500.5,623.6 503.7,624.8C508.9,626.7 514.0,629.7 519.2,632.6C523.7,635.2 528.3,638.6 532.8,641.3C537.3,644.0 541.8,646.9 546.3,649.0C550.2,650.8 554.1,652.8 558.0,653.5C563.7,654.5 569.3,655.3 575.0,655.3M470.9,644.2C474.2,644.0 477.5,643.8 480.8,643.9C484.1,644.0 487.4,644.4 490.6,645.0C493.9,645.6 497.2,646.3 500.5,647.1C503.8,647.8 507.1,648.7 510.4,649.5C513.7,650.4 517.0,651.2 520.3,652.0C523.5,652.7 526.8,653.4 530.1,653.8C533.4,654.2 536.7,654.3 540.0,654.5M470.9,649.5C474.2,649.5 477.5,649.5 480.8,649.6C484.1,649.7 487.4,649.9 490.6,650.2C493.9,650.4 497.2,650.7 500.5,651.0C503.8,651.3 507.1,651.7 510.4,652.0C513.7,652.4 517.0,652.7 520.3,653.0C523.5,653.4 526.8,653.7 530.1,653.9C533.4,654.2 536.7,654.3 540.0,654.5" fill="none" stroke="#0000ff" stroke-width="2.3" stroke-linejoin="round" clip-path="url(#cld)"/>
<path d="M470.9,655.3C472.6,655.3 474.2,655.3 475.9,655.3C477.5,655.3 479.2,655.3 480.9,655.3C482.5,655.3 484.2,655.3 485.8,655.3C487.5,655.3 489.1,655.3 490.8,655.3C492.5,655.3 494.1,655.3 495.8,655.3C497.4,655.3 499.1,655.3 500.8,655.2C502.4,655.2 504.1,655.2 505.7,655.2C507.4,655.2 509.0,655.1 510.7,655.1C512.4,655.1 514.0,655.0 515.7,655.0C517.3,654.9 519.0,654.9 520.7,654.8C522.3,654.8 524.0,654.7 525.6,654.6C527.3,654.5 529.0,654.4 530.6,654.3C532.3,654.2 533.9,654.1 535.6,653.9C537.2,653.8 538.9,653.7 540.6,653.5C542.2,653.3 543.9,653.2 545.5,653.0C547.2,652.8 548.9,652.6 550.5,652.3C552.2,652.1 553.8,651.9 555.5,651.6C557.1,651.3 558.8,651.1 560.5,650.7C562.1,650.4 563.8,650.1 565.4,649.8C567.1,649.4 568.8,649.1 570.4,648.7C572.1,648.3 573.7,647.9 575.4,647.5C577.0,647.0 578.7,646.6 580.4,646.1C582.0,645.6 583.7,645.1 585.3,644.6C587.0,644.0 588.7,643.5 590.3,642.9C592.0,642.3 593.6,641.7 595.3,641.0C597.0,640.4 598.6,639.7 600.3,639.0C601.9,638.3 603.6,637.5 605.2,636.8C606.9,636.0 608.6,635.2 610.2,634.4C611.9,633.5 613.5,632.7 615.2,631.8C616.9,630.9 618.5,629.9 620.2,628.9C621.8,628.0 623.5,627.0 625.1,625.9C626.8,624.9 628.5,623.8 630.1,622.8C631.8,621.7 633.4,620.6 635.1,619.5C636.8,618.4 638.4,617.3 640.1,616.2C641.7,615.1 643.4,614.0 645.1,612.9C646.7,611.8 648.4,610.7 650.0,609.7C651.7,608.6 653.3,607.6 655.0,606.6C656.7,605.6 658.3,604.7 660.0,603.7C661.6,602.8 663.3,601.9 665.0,601.1C666.6,600.3 668.3,599.5 669.9,598.8C671.6,598.1 673.2,597.4 674.9,596.9C676.6,596.3 678.2,595.7 679.9,595.2C681.5,594.7 683.2,594.3 684.9,593.9C686.5,593.5 688.2,593.2 689.8,592.8C691.5,592.5 693.2,592.2 694.8,592.0C696.5,591.7 698.1,591.5 699.8,591.3C701.4,591.1 703.1,591.0 704.8,590.8C706.4,590.7 708.1,590.6 709.7,590.5C711.4,590.3 713.1,590.2 714.7,590.2C716.4,590.1 718.0,590.0 719.7,589.9C721.3,589.8 723.0,589.7 724.7,589.7C726.3,589.6 728.0,589.5 729.6,589.4C731.3,589.3 733.0,589.2 734.6,589.1C736.3,588.9 737.9,588.8 739.6,588.6C741.2,588.5 742.9,588.3 744.6,588.1C746.2,587.9 747.9,587.6 749.5,587.3C751.2,587.1 752.9,586.8 754.5,586.4C756.2,586.1 757.8,585.7 759.5,585.2C761.2,584.8 762.8,584.3 764.5,583.8C766.1,583.2 767.8,582.7 769.4,582.0C771.1,581.4 772.8,580.7 774.4,579.9C776.1,579.1 777.7,578.3 779.4,577.4C781.1,576.5 782.7,575.6 784.4,574.5C786.0,573.5 787.7,572.3 789.3,571.1C791.0,569.9 792.7,568.7 794.3,567.3C796.0,565.9 797.6,564.4 799.3,562.9M470.9,655.3C472.6,655.3 474.2,655.3 475.9,655.4C477.5,655.4 479.2,655.4 480.9,655.4C482.5,655.4 484.2,655.4 485.8,655.5C487.5,655.5 489.1,655.5 490.8,655.5C492.5,655.5 494.1,655.5 495.8,655.5C497.4,655.6 499.1,655.6 500.8,655.6C502.4,655.6 504.1,655.6 505.7,655.6C507.4,655.6 509.0,655.6 510.7,655.6C512.4,655.6 514.0,655.6 515.7,655.6C517.3,655.6 519.0,655.6 520.7,655.5C522.3,655.5 524.0,655.5 525.6,655.5C527.3,655.5 529.0,655.4 530.6,655.4C532.3,655.4 533.9,655.3 535.6,655.3C537.2,655.2 538.9,655.2 540.6,655.1C542.2,655.1 543.9,655.0 545.5,655.0C547.2,654.9 548.9,654.8 550.5,654.8C552.2,654.7 553.8,654.6 555.5,654.5C557.1,654.4 558.8,654.3 560.5,654.2C562.1,654.1 563.8,654.0 565.4,653.9C567.1,653.8 568.8,653.7 570.4,653.5C572.1,653.4 573.7,653.3 575.4,653.1C577.0,653.0 578.7,652.8 580.4,652.7C582.0,652.5 583.7,652.3 585.3,652.2C587.0,652.0 588.7,651.8 590.3,651.6C592.0,651.4 593.6,651.2 595.3,651.0C597.0,650.8 598.6,650.6 600.3,650.3C601.9,650.1 603.6,649.9 605.2,649.6C606.9,649.4 608.6,649.1 610.2,648.9C611.9,648.6 613.5,648.3 615.2,648.1C616.9,647.8 618.5,647.5 620.2,647.2C621.8,646.9 623.5,646.6 625.1,646.3C626.8,646.0 628.5,645.6 630.1,645.1C631.8,644.6 633.4,644.0 635.1,643.2C636.8,642.5 638.4,641.6 640.1,640.7C641.7,639.7 643.4,638.6 645.1,637.4C646.7,636.2 648.4,635.0 650.0,633.6C651.7,632.3 653.3,630.9 655.0,629.5C656.7,628.1 658.3,626.6 660.0,625.1C661.6,623.6 663.3,622.1 665.0,620.6C666.6,619.1 668.3,617.6 669.9,616.2C671.6,614.7 673.2,613.3 674.9,611.9C676.6,610.5 678.2,609.2 679.9,608.0C681.5,606.8 683.2,605.6 684.9,604.6C686.5,603.5 688.2,602.6 689.8,601.7C691.5,600.9 693.2,600.2 694.8,599.7C696.5,599.2 698.1,598.8 699.8,598.6C701.4,598.3 703.1,598.3 704.8,598.5C706.4,598.6 708.1,599.0 709.7,599.5C711.4,600.0 713.1,600.7 714.7,601.5C716.4,602.4 718.0,603.3 719.7,604.3C721.3,605.3 723.0,606.4 724.7,607.6C726.3,608.7 728.0,609.9 729.6,611.1C731.3,612.3 733.0,613.5 734.6,614.7C736.3,615.8 737.9,616.8 739.6,617.7C741.2,618.5 742.9,619.2 744.6,619.7C746.2,620.2 747.9,620.4 749.5,620.3C751.2,620.2 752.9,619.8 754.5,619.0C756.2,618.3 757.8,617.2 759.5,615.9C761.2,614.6 762.8,613.0 764.5,611.3C766.1,609.6 767.8,607.7 769.4,605.7C771.1,603.7 772.8,601.7 774.4,599.6C776.1,597.5 777.7,595.4 779.4,593.4C781.1,591.3 782.7,589.3 784.4,587.5C786.0,585.6 787.7,583.8 789.3,582.2C791.0,580.5 792.7,578.9 794.3,577.5C796.0,576.1 797.6,574.9 799.3,573.7M470.9,655.3C472.6,655.3 474.2,655.3 475.9,655.3C477.5,655.3 479.2,655.3 480.9,655.3C482.5,655.3 484.2,655.3 485.8,655.4C487.5,655.4 489.1,655.4 490.8,655.4C492.5,655.4 494.1,655.5 495.8,655.5C497.4,655.5 499.1,655.5 500.8,655.5C502.4,655.5 504.1,655.6 505.7,655.6C507.4,655.6 509.0,655.6 510.7,655.6C512.4,655.6 514.0,655.6 515.7,655.6C517.3,655.6 519.0,655.5 520.7,655.5C522.3,655.5 524.0,655.5 525.6,655.4C527.3,655.4 529.0,655.3 530.6,655.3C532.3,655.2 533.9,655.1 535.6,655.1C537.2,655.0 538.9,654.9 540.6,654.8C542.2,654.7 543.9,654.5 545.5,654.4C547.2,654.3 548.9,654.1 550.5,653.9C552.2,653.8 553.8,653.6 555.5,653.4C557.1,653.2 558.8,653.0 560.5,652.7C562.1,652.5 563.8,652.2 565.4,652.0C567.1,651.7 568.8,651.4 570.4,651.1C572.1,650.7 573.7,650.4 575.4,650.0C577.0,649.7 578.7,649.3 580.4,648.9C582.0,648.5 583.7,648.0 585.3,647.6C587.0,647.1 588.7,646.6 590.3,646.1C592.0,645.6 593.6,645.1 595.3,644.5C597.0,643.9 598.6,643.3 600.3,642.7C601.9,642.1 603.6,641.4 605.2,640.7C606.9,640.0 608.6,639.3 610.2,638.5C611.9,637.8 613.5,637.0 615.2,636.3C616.9,635.5 618.5,634.7 620.2,633.9C621.8,633.1 623.5,632.3 625.1,631.6C626.8,630.8 628.5,630.0 630.1,629.3C631.8,628.5 633.4,627.8 635.1,627.1C636.8,626.5 638.4,625.8 640.1,625.2C641.7,624.6 643.4,624.1 645.1,623.6C646.7,623.1 648.4,622.7 650.0,622.5C651.7,622.3 653.3,622.4 655.0,623.3C656.7,624.1 658.3,625.6 660.0,627.0C661.6,628.3 663.3,629.5 665.0,629.8C666.6,630.1 668.3,629.5 669.9,628.8C671.6,628.1 673.2,627.2 674.9,626.2C676.6,625.2 678.2,624.1 679.9,623.0C681.5,621.9 683.2,620.9 684.9,620.0C686.5,619.2 688.2,618.4 689.8,618.0C691.5,617.5 693.2,617.3 694.8,617.3C696.5,617.3 698.1,617.5 699.8,617.9C701.4,618.2 703.1,618.6 704.8,619.0C706.4,619.5 708.1,619.9 709.7,620.4C711.4,620.8 713.1,621.1 714.7,621.4C716.4,621.6 718.0,621.7 719.7,621.8C721.3,621.9 723.0,622.0 724.7,622.4C726.3,622.7 728.0,623.3 729.6,623.3C731.3,623.4 733.0,622.8 734.6,621.8C736.3,620.9 737.9,619.4 739.6,618.6C741.2,617.8 742.9,617.7 744.6,617.9C746.2,618.0 747.9,618.5 749.5,619.0C751.2,619.5 752.9,620.0 754.5,620.2C756.2,620.3 757.8,620.1 759.5,619.5C761.2,618.9 762.8,618.0 764.5,616.9C766.1,615.8 767.8,614.6 769.4,613.2C771.1,611.9 772.8,610.5 774.4,609.0C776.1,607.5 777.7,606.0 779.4,604.5C781.1,602.9 782.7,601.4 784.4,599.9C786.0,598.4 787.7,596.9 789.3,595.5C791.0,594.0 792.7,592.7 794.3,591.4C796.0,590.2 797.6,589.1 799.3,588.0M470.9,655.3C472.6,655.2 474.2,655.2 475.9,655.2C477.5,655.1 479.2,655.1 480.9,655.1C482.5,655.0 484.2,655.0 485.8,655.0C487.5,655.0 489.1,655.0 490.8,655.0C492.5,655.0 494.1,655.0 495.8,655.0C497.4,655.0 499.1,655.0 500.8,655.0C502.4,655.0 504.1,655.1 505.7,655.1C507.4,655.1 509.0,655.1 510.7,655.1C512.4,655.1 514.0,655.1 515.7,655.1C517.3,655.1 519.0,655.1 520.7,655.1C522.3,655.1 524.0,655.1 525.6,655.1C527.3,655.1 529.0,655.1 530.6,655.0C532.3,655.0 533.9,655.0 535.6,654.9C537.2,654.9 538.9,654.8 540.6,654.8C542.2,654.7 543.9,654.7 545.5,654.6C547.2,654.5 548.9,654.4 550.5,654.3C552.2,654.2 553.8,654.1 555.5,653.9C557.1,653.8 558.8,653.6 560.5,653.5C562.1,653.3 563.8,653.1 565.4,652.9C567.1,652.7 568.8,652.5 570.4,652.3C572.1,652.1 573.7,651.8 575.4,651.5C577.0,651.3 578.7,651.0 580.4,650.6C582.0,650.3 583.7,650.0 585.3,649.6C587.0,649.3 588.7,648.9 590.3,648.5C592.0,648.1 593.6,647.7 595.3,647.2C597.0,646.7 598.6,646.3 600.3,645.8C601.9,645.2 603.6,644.7 605.2,644.1C606.9,643.6 608.6,643.0 610.2,642.4C611.9,641.7 613.5,641.1 615.2,640.4C616.9,639.7 618.5,639.0 620.2,638.3C621.8,637.6 623.5,636.8 625.1,636.0C626.8,635.2 628.5,634.4 630.1,633.6C631.8,632.7 633.4,631.9 635.1,631.0C636.8,630.1 638.4,629.2 640.1,628.3C641.7,627.4 643.4,626.5 645.1,625.8C646.7,625.0 648.4,624.3 650.0,623.7C651.7,623.1 653.3,622.6 655.0,622.2C656.7,621.8 658.3,621.5 660.0,621.3C661.6,621.0 663.3,620.7 665.0,620.5C666.6,620.2 668.3,620.0 669.9,619.7C671.6,619.5 673.2,619.2 674.9,618.9C676.6,618.6 678.2,618.4 679.9,618.1C681.5,617.8 683.2,617.5 684.9,617.2C686.5,616.9 688.2,616.6 689.8,616.4C691.5,616.1 693.2,615.8 694.8,615.5C696.5,615.2 698.1,614.9 699.8,614.7C701.4,614.4 703.1,614.1 704.8,613.9C706.4,613.6 708.1,613.4 709.7,613.1C711.4,612.9 713.1,612.7 714.7,612.5C716.4,612.2 718.0,612.0 719.7,611.8C721.3,611.6 723.0,611.5 724.7,611.3C726.3,611.1 728.0,611.0 729.6,610.9C731.3,610.7 733.0,610.6 734.6,610.5C736.3,610.4 737.9,610.3 739.6,610.2C741.2,610.1 742.9,610.0 744.6,610.0C746.2,609.9 747.9,609.8 749.5,609.8C751.2,609.7 752.9,609.6 754.5,609.6C756.2,609.5 757.8,609.5 759.5,609.4C761.2,609.3 762.8,609.3 764.5,609.2C766.1,609.1 767.8,609.0 769.4,608.9C771.1,608.9 772.8,608.8 774.4,608.7C776.1,608.6 777.7,608.5 779.4,608.3C781.1,608.2 782.7,608.1 784.4,607.9C786.0,607.7 787.7,607.6 789.3,607.4C791.0,607.2 792.7,607.0 794.3,606.8C796.0,606.5 797.6,606.3 799.3,606.0" fill="none" stroke="#ee4614" stroke-width="3.9" stroke-linejoin="round" clip-path="url(#cld)"/>
<line x1="163.3" y1="329.3" x2="163.3" y2="48.3" stroke="#3c3c3c" stroke-width="2.3" stroke-dasharray="8.6 9.8"/>
<line x1="327.3" y1="329.3" x2="327.3" y2="48.3" stroke="#3c3c3c" stroke-width="2.3" stroke-dasharray="8.6 9.8"/>
<line x1="245.3" y1="329.8" x2="245.3" y2="47.8" stroke="#e8503a" stroke-width="2.2"/>
<line x1="409.3" y1="329.8" x2="409.3" y2="47.8" stroke="#e8503a" stroke-width="2.2"/>
<line x1="553.0" y1="329.0" x2="553.0" y2="48.3" stroke="#3c3c3c" stroke-width="2.3" stroke-dasharray="8.6 9.8"/>
<line x1="717.2" y1="329.0" x2="717.2" y2="48.3" stroke="#3c3c3c" stroke-width="2.3" stroke-dasharray="8.6 9.8"/>
<line x1="635.1" y1="329.5" x2="635.1" y2="47.8" stroke="#e8503a" stroke-width="2.2"/>
<line x1="799.3" y1="329.5" x2="799.3" y2="47.8" stroke="#e8503a" stroke-width="2.2"/>
<line x1="163.3" y1="655.8" x2="163.3" y2="373.8" stroke="#3c3c3c" stroke-width="2.3" stroke-dasharray="8.6 9.8"/>
<line x1="327.3" y1="655.8" x2="327.3" y2="373.8" stroke="#3c3c3c" stroke-width="2.3" stroke-dasharray="8.6 9.8"/>
<line x1="245.3" y1="656.3" x2="245.3" y2="373.3" stroke="#e8503a" stroke-width="2.2"/>
<line x1="409.3" y1="656.3" x2="409.3" y2="373.3" stroke="#e8503a" stroke-width="2.2"/>
<line x1="553.0" y1="655.8" x2="553.0" y2="373.8" stroke="#3c3c3c" stroke-width="2.3" stroke-dasharray="8.6 9.8"/>
<line x1="717.2" y1="655.8" x2="717.2" y2="373.8" stroke="#3c3c3c" stroke-width="2.3" stroke-dasharray="8.6 9.8"/>
<line x1="635.1" y1="656.3" x2="635.1" y2="373.3" stroke="#e8503a" stroke-width="2.2"/>
<line x1="799.3" y1="656.3" x2="799.3" y2="373.3" stroke="#e8503a" stroke-width="2.2"/>
<line x1="409.7" y1="48.3" x2="409.7" y2="329.3" stroke="#3a3a3a" stroke-opacity="0.45" stroke-width="1"/>
<line x1="799.7" y1="48.3" x2="799.7" y2="329.0" stroke="#3a3a3a" stroke-opacity="0.45" stroke-width="1"/>
<line x1="409.7" y1="373.8" x2="409.7" y2="655.8" stroke="#3a3a3a" stroke-opacity="0.45" stroke-width="1"/>
<line x1="799.7" y1="373.8" x2="799.7" y2="655.8" stroke="#3a3a3a" stroke-opacity="0.45" stroke-width="1"/>
<circle cx="375.9" cy="76.5" r="19.7" fill="none" stroke="#2a2a2a" stroke-width="1.1" stroke-dasharray="3.2 2.4"/>
<circle cx="375.9" cy="76.5" r="13.9" fill="none" stroke="#555" stroke-width="1"/>
<circle cx="375.9" cy="76.5" r="5.9" fill="#e85a48" stroke="#333" stroke-width="0.9" stroke-dasharray="2.2 2.2"/>
<text x="373.9" y="119.2" text-anchor="middle" class="ic">#20</text>
<circle cx="766.6" cy="77.4" r="19.7" fill="none" stroke="#2a2a2a" stroke-width="1.1" stroke-dasharray="3.2 2.4"/>
<circle cx="766.6" cy="77.4" r="13.5" fill="#e85a48" stroke="#777" stroke-width="0.9"/>
<circle cx="766.6" cy="77.4" r="6.2" fill="#f2f0f2" stroke="#1a1a1a" stroke-width="1.3" stroke-dasharray="3 2"/>
<text x="765.6" y="119.9" text-anchor="middle" class="ic">#4</text>
<circle cx="114.7" cy="404.2" r="16.4" fill="none" stroke="#e85a48" stroke-width="4.6"/>
<circle cx="114.7" cy="404.2" r="19.1" fill="none" stroke="#222" stroke-width="1.2" stroke-dasharray="2.6 2"/>
<circle cx="114.7" cy="404.2" r="14.0" fill="#fbfafb" stroke="#333" stroke-width="1"/>
<circle cx="114.7" cy="404.2" r="6.4" fill="#f2f0f2" stroke="#222" stroke-width="1.3" stroke-dasharray="3.2 2.2"/>
<text x="112.7" y="447.7" text-anchor="middle" class="ic">#4</text>
<circle cx="506.7" cy="407.9" r="22.7" fill="none" stroke="#e85a48" stroke-width="5.2"/>
<circle cx="506.7" cy="407.9" r="20.1" fill="#fbfafb" stroke="#1a1a1a" stroke-width="1.3" stroke-dasharray="3 2"/>
<circle cx="506.7" cy="407.9" r="13.8" fill="none" stroke="#333" stroke-width="1"/>
<circle cx="506.7" cy="407.9" r="6.6" fill="#f2f0f2" stroke="#222" stroke-width="1.3" stroke-dasharray="3.4 2.2"/>
<text x="506.7" y="454.2" text-anchor="middle" class="ic2">#81</text>
<text x="20.6" y="41.4" class="pl">a)</text>
<text x="426.6" y="41.4" class="pl">b)</text>
<text x="21.7" y="388.3" class="pl">c)</text>
<text x="426.6" y="388.3" class="pl">d)</text>
<text transform="translate(46.2,225.6) rotate(-90) scale(1.22,1)" class="yl">&#916;</text>
<text transform="translate(46.2,203.2) rotate(-90)" class="yl" style="font-size:21px">B</text>
<text transform="translate(46.2,184.3) rotate(-90)" class="yl" style="font-size:20.6px">[nT]</text>
<text transform="translate(46.2,551.5) rotate(-90) scale(1.22,1)" class="yl">&#916;</text>
<text transform="translate(46.2,529.2) rotate(-90)" class="yl" style="font-size:21px">B</text>
<text transform="translate(46.2,510.3) rotate(-90)" class="yl" style="font-size:20.6px">[nT]</text>
<text x="214.4" y="703.6" class="xl">R<tspan class="sub" dx="0.6" dy="9.4">Crater</tspan></text>
<text x="604.2" y="703.6" class="xl">R<tspan class="sub" dx="0.6" dy="9.4">Crater</tspan></text>
<text x="249" y="98.9" class="cl">Psi</text>
<text x="249" y="155.8" class="cl">Eta</text>
<text x="249" y="240.8" class="cl">Nu</text>
<text x="258" y="258" class="cl">Flaugergues</text>
<text x="271" y="272.3" class="cl">Gale</text>
<text x="803.3" y="382.7" class="cl">Omega</text>
<text x="803.3" y="394.9" class="cl">Iota</text>
<text x="803.3" y="471.4" class="cl">Janssen</text>
<text x="803.3" y="494.6" class="cl">Ptolemaeus</text>
<text x="803.3" y="510" class="cl">Newton</text>
<text x="803.3" y="572.3" class="cl" style="fill:#ee4614">Isidis</text>
<text x="803.3" y="587" class="cl" style="fill:#ee4614">Hellas</text>
<text x="803.3" y="602.7" class="cl" style="fill:#ee4614">Utopia</text>
<text x="803.3" y="616.2" class="cl" style="fill:#ee4614">Argyre</text>
</svg></body></html>
